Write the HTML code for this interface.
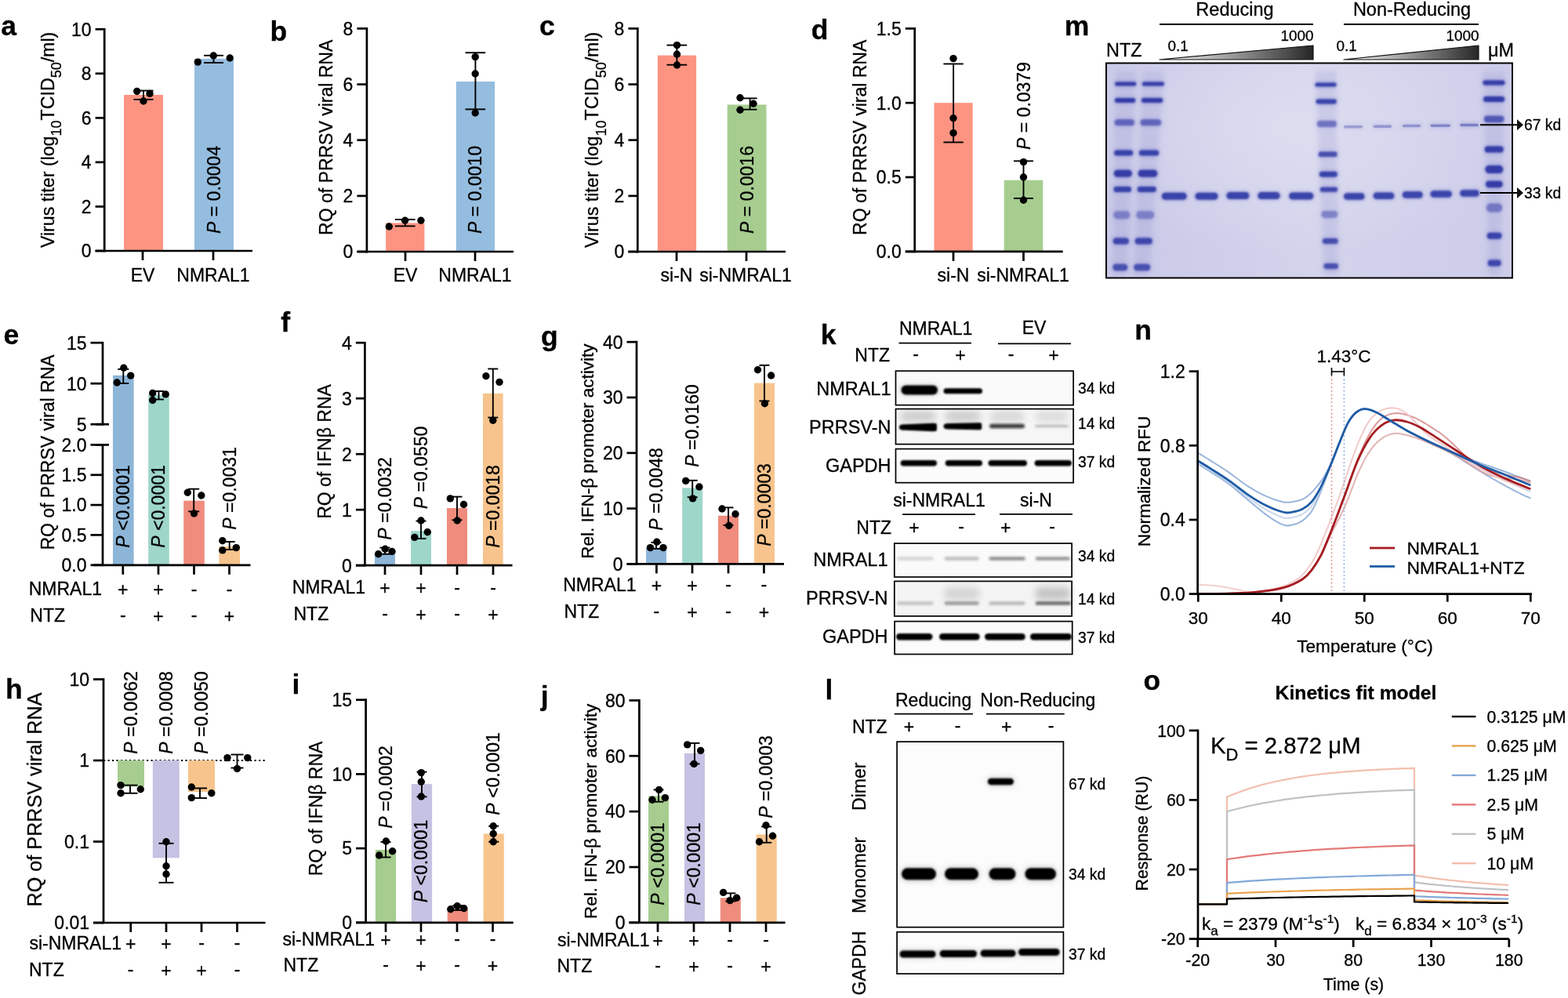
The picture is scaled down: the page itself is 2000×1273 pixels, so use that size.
<!DOCTYPE html>
<html><head><meta charset="utf-8"><style>
html,body{margin:0;padding:0;background:#fff;}
svg{display:block;font-family:"Liberation Sans", Arial, Helvetica, sans-serif;}
text{stroke:#000;stroke-width:0.3px;}
</style></head><body>
<svg width="2000" height="1273" viewBox="0 0 2000 1273">
<rect width="2000" height="1273" fill="#fff"/>
<text x="1.2" y="44.7" font-size="35.5" font-weight="bold">a</text>
<text x="344.6" y="51.5" font-size="35.5" font-weight="bold">b</text>
<text x="687.9" y="44.5" font-size="35.5" font-weight="bold">c</text>
<text x="1034.8" y="50.4" font-size="35.5" font-weight="bold">d</text>
<text x="1357.8" y="44.5" font-size="35.5" font-weight="bold">m</text>
<text x="4.4" y="439.2" font-size="35.5" font-weight="bold">e</text>
<text x="358.3" y="423.0" font-size="35.5" font-weight="bold">f</text>
<text x="690.1" y="440.5" font-size="35.5" font-weight="bold">g</text>
<text x="1046.8" y="439.0" font-size="35.5" font-weight="bold">k</text>
<text x="1447.3" y="433.0" font-size="35.5" font-weight="bold">n</text>
<text x="7.0" y="891.0" font-size="35.5" font-weight="bold">h</text>
<text x="372.5" y="884.9" font-size="35.5" font-weight="bold">i</text>
<text x="689.7" y="899.7" font-size="35.5" font-weight="bold">j</text>
<text x="1052.5" y="891.7" font-size="35.5" font-weight="bold">l</text>
<text x="1458.4" y="879.8" font-size="35.5" font-weight="bold">o</text>
<rect x="158.0" y="121.0" width="50.0" height="199.0" fill="#FD9482"/>
<rect x="248.0" y="74.9" width="50.0" height="245.1" fill="#95BDDF"/>
<line x1="133.2" y1="36.0" x2="133.2" y2="321.4" stroke="#000" stroke-width="2.7" stroke-linecap="butt"/>
<line x1="121.6" y1="37.3" x2="133.2" y2="37.3" stroke="#000" stroke-width="2.7"/>
<text x="116.6" y="45.6" font-size="23" text-anchor="end">10</text>
<line x1="121.6" y1="93.8" x2="133.2" y2="93.8" stroke="#000" stroke-width="2.7"/>
<text x="116.6" y="102.1" font-size="23" text-anchor="end">8</text>
<line x1="121.6" y1="150.4" x2="133.2" y2="150.4" stroke="#000" stroke-width="2.7"/>
<text x="116.6" y="158.7" font-size="23" text-anchor="end">6</text>
<line x1="121.6" y1="206.9" x2="133.2" y2="206.9" stroke="#000" stroke-width="2.7"/>
<text x="116.6" y="215.2" font-size="23" text-anchor="end">4</text>
<line x1="121.6" y1="263.5" x2="133.2" y2="263.5" stroke="#000" stroke-width="2.7"/>
<text x="116.6" y="271.7" font-size="23" text-anchor="end">2</text>
<line x1="121.6" y1="320.0" x2="133.2" y2="320.0" stroke="#000" stroke-width="2.7"/>
<text x="116.6" y="328.3" font-size="23" text-anchor="end">0</text>
<line x1="121.6" y1="320.0" x2="322.0" y2="320.0" stroke="#000" stroke-width="2.7"/>
<line x1="182.0" y1="320.0" x2="182.0" y2="332.0" stroke="#000" stroke-width="2.7"/>
<line x1="272.0" y1="320.0" x2="272.0" y2="332.0" stroke="#000" stroke-width="2.7"/>
<line x1="183.0" y1="115.6" x2="183.0" y2="126.9" stroke="#000" stroke-width="1.9"/>
<line x1="170.5" y1="115.6" x2="195.5" y2="115.6" stroke="#000" stroke-width="1.9"/>
<line x1="170.5" y1="126.9" x2="195.5" y2="126.9" stroke="#000" stroke-width="1.9"/>
<circle cx="174.7" cy="116.5" r="4.7" fill="#000"/>
<circle cx="191.0" cy="119.4" r="4.7" fill="#000"/>
<circle cx="183.0" cy="129.0" r="4.7" fill="#000"/>
<line x1="272.5" y1="70.8" x2="272.5" y2="80.0" stroke="#000" stroke-width="1.9"/>
<line x1="260.0" y1="70.8" x2="285.0" y2="70.8" stroke="#000" stroke-width="1.9"/>
<line x1="260.0" y1="80.0" x2="285.0" y2="80.0" stroke="#000" stroke-width="1.9"/>
<circle cx="252.3" cy="79.1" r="4.7" fill="#000"/>
<circle cx="272.3" cy="71.0" r="4.7" fill="#000"/>
<circle cx="293.2" cy="74.0" r="4.7" fill="#000"/>
<text transform="translate(280.5,242.0) rotate(-90)" font-size="23" text-anchor="middle"><tspan font-style="italic">P</tspan> = 0.0004</text>
<text x="182.0" y="358.8" font-size="23" text-anchor="middle">EV</text>
<text x="272.0" y="358.8" font-size="23" text-anchor="middle">NMRAL1</text>
<text transform="translate(68.6,178.4) rotate(-90)" font-size="23.2" text-anchor="middle">Virus titer (log<tspan dy="9.5" font-size="18">10</tspan><tspan dy="-9.5">TCID</tspan><tspan dy="9.5" font-size="18">50</tspan><tspan dy="-9.5">/ml)</tspan></text>
<rect x="492.1" y="284.4" width="49.3" height="36.6" fill="#FD9482"/>
<rect x="581.8" y="104.0" width="49.3" height="217.0" fill="#95BDDF"/>
<line x1="467.9" y1="35.1" x2="467.9" y2="322.4" stroke="#000" stroke-width="2.7" stroke-linecap="butt"/>
<line x1="455.4" y1="36.4" x2="467.9" y2="36.4" stroke="#000" stroke-width="2.7"/>
<text x="450.4" y="44.7" font-size="23" text-anchor="end">8</text>
<line x1="455.4" y1="107.6" x2="467.9" y2="107.6" stroke="#000" stroke-width="2.7"/>
<text x="450.4" y="115.9" font-size="23" text-anchor="end">6</text>
<line x1="455.4" y1="178.7" x2="467.9" y2="178.7" stroke="#000" stroke-width="2.7"/>
<text x="450.4" y="187.0" font-size="23" text-anchor="end">4</text>
<line x1="455.4" y1="249.9" x2="467.9" y2="249.9" stroke="#000" stroke-width="2.7"/>
<text x="450.4" y="258.1" font-size="23" text-anchor="end">2</text>
<line x1="455.4" y1="321.0" x2="467.9" y2="321.0" stroke="#000" stroke-width="2.7"/>
<text x="450.4" y="329.3" font-size="23" text-anchor="end">0</text>
<line x1="455.4" y1="321.0" x2="655.0" y2="321.0" stroke="#000" stroke-width="2.7"/>
<line x1="517.0" y1="321.0" x2="517.0" y2="333.0" stroke="#000" stroke-width="2.7"/>
<line x1="606.0" y1="321.0" x2="606.0" y2="333.0" stroke="#000" stroke-width="2.7"/>
<line x1="516.8" y1="280.0" x2="516.8" y2="288.4" stroke="#000" stroke-width="1.9"/>
<line x1="503.9" y1="280.0" x2="529.6" y2="280.0" stroke="#000" stroke-width="1.9"/>
<line x1="503.9" y1="288.4" x2="529.6" y2="288.4" stroke="#000" stroke-width="1.9"/>
<circle cx="496.3" cy="289.0" r="4.7" fill="#000"/>
<circle cx="516.6" cy="281.3" r="4.7" fill="#000"/>
<circle cx="536.9" cy="281.3" r="4.7" fill="#000"/>
<line x1="606.4" y1="67.2" x2="606.4" y2="139.4" stroke="#000" stroke-width="1.9"/>
<line x1="593.5" y1="67.2" x2="619.2" y2="67.2" stroke="#000" stroke-width="1.9"/>
<line x1="593.5" y1="139.4" x2="619.2" y2="139.4" stroke="#000" stroke-width="1.9"/>
<circle cx="606.2" cy="72.6" r="4.7" fill="#000"/>
<circle cx="606.2" cy="94.0" r="4.7" fill="#000"/>
<circle cx="606.2" cy="144.0" r="4.7" fill="#000"/>
<text transform="translate(614.0,242.0) rotate(-90)" font-size="23" text-anchor="middle"><tspan font-style="italic">P</tspan> = 0.0010</text>
<text x="517.0" y="358.8" font-size="23" text-anchor="middle">EV</text>
<text x="606.0" y="358.8" font-size="23" text-anchor="middle">NMRAL1</text>
<text transform="translate(424.0,175.3) rotate(-90)" font-size="23" text-anchor="middle">RQ of PRRSV viral RNA</text>
<rect x="838.8" y="70.6" width="49.3" height="250.4" fill="#FD9482"/>
<rect x="927.7" y="133.5" width="49.8" height="187.5" fill="#A6CD8F"/>
<line x1="813.3" y1="35.1" x2="813.3" y2="322.4" stroke="#000" stroke-width="2.7" stroke-linecap="butt"/>
<line x1="801.4" y1="36.4" x2="813.3" y2="36.4" stroke="#000" stroke-width="2.7"/>
<text x="796.4" y="44.7" font-size="23" text-anchor="end">8</text>
<line x1="801.4" y1="107.6" x2="813.3" y2="107.6" stroke="#000" stroke-width="2.7"/>
<text x="796.4" y="115.9" font-size="23" text-anchor="end">6</text>
<line x1="801.4" y1="178.7" x2="813.3" y2="178.7" stroke="#000" stroke-width="2.7"/>
<text x="796.4" y="187.0" font-size="23" text-anchor="end">4</text>
<line x1="801.4" y1="249.9" x2="813.3" y2="249.9" stroke="#000" stroke-width="2.7"/>
<text x="796.4" y="258.1" font-size="23" text-anchor="end">2</text>
<line x1="801.4" y1="321.0" x2="813.3" y2="321.0" stroke="#000" stroke-width="2.7"/>
<text x="796.4" y="329.3" font-size="23" text-anchor="end">0</text>
<line x1="801.4" y1="321.0" x2="1002.0" y2="321.0" stroke="#000" stroke-width="2.7"/>
<line x1="863.0" y1="321.0" x2="863.0" y2="333.0" stroke="#000" stroke-width="2.7"/>
<line x1="952.0" y1="321.0" x2="952.0" y2="333.0" stroke="#000" stroke-width="2.7"/>
<line x1="863.4" y1="57.6" x2="863.4" y2="82.7" stroke="#000" stroke-width="1.9"/>
<line x1="850.5" y1="57.6" x2="876.2" y2="57.6" stroke="#000" stroke-width="1.9"/>
<line x1="850.5" y1="82.7" x2="876.2" y2="82.7" stroke="#000" stroke-width="1.9"/>
<circle cx="863.5" cy="57.6" r="4.7" fill="#000"/>
<circle cx="863.5" cy="69.3" r="4.7" fill="#000"/>
<circle cx="863.5" cy="83.0" r="4.7" fill="#000"/>
<line x1="956.6" y1="125.4" x2="956.6" y2="139.7" stroke="#000" stroke-width="1.9"/>
<line x1="947.6" y1="125.4" x2="965.6" y2="125.4" stroke="#000" stroke-width="1.9"/>
<line x1="947.6" y1="139.7" x2="965.6" y2="139.7" stroke="#000" stroke-width="1.9"/>
<circle cx="944.0" cy="124.8" r="4.7" fill="#000"/>
<circle cx="961.0" cy="132.3" r="4.7" fill="#000"/>
<circle cx="944.0" cy="140.3" r="4.7" fill="#000"/>
<text transform="translate(960.5,242.0) rotate(-90)" font-size="23" text-anchor="middle"><tspan font-style="italic">P</tspan> = 0.0016</text>
<text x="863.0" y="358.8" font-size="23" text-anchor="middle">si-N</text>
<text x="951.0" y="358.8" font-size="23" text-anchor="middle">si-NMRAL1</text>
<text transform="translate(763.0,178.4) rotate(-90)" font-size="23.2" text-anchor="middle">Virus titer (log<tspan dy="9.5" font-size="18">10</tspan><tspan dy="-9.5">TCID</tspan><tspan dy="9.5" font-size="18">50</tspan><tspan dy="-9.5">/ml)</tspan></text>
<rect x="1191.5" y="131.2" width="49.2" height="189.7" fill="#FD9482"/>
<rect x="1280.7" y="229.8" width="49.6" height="91.1" fill="#A6CD8F"/>
<line x1="1166.7" y1="35.0" x2="1166.7" y2="322.2" stroke="#000" stroke-width="2.7" stroke-linecap="butt"/>
<line x1="1154.8" y1="36.4" x2="1166.7" y2="36.4" stroke="#000" stroke-width="2.7"/>
<text x="1149.8" y="44.6" font-size="23" text-anchor="end">1.5</text>
<line x1="1154.8" y1="131.2" x2="1166.7" y2="131.2" stroke="#000" stroke-width="2.7"/>
<text x="1149.8" y="139.5" font-size="23" text-anchor="end">1.0</text>
<line x1="1154.8" y1="226.0" x2="1166.7" y2="226.0" stroke="#000" stroke-width="2.7"/>
<text x="1149.8" y="234.3" font-size="23" text-anchor="end">0.5</text>
<line x1="1154.8" y1="320.9" x2="1166.7" y2="320.9" stroke="#000" stroke-width="2.7"/>
<text x="1149.8" y="329.2" font-size="23" text-anchor="end">0.0</text>
<line x1="1154.8" y1="320.9" x2="1355.7" y2="320.9" stroke="#000" stroke-width="2.7"/>
<line x1="1216.0" y1="320.9" x2="1216.0" y2="332.9" stroke="#000" stroke-width="2.7"/>
<line x1="1305.5" y1="320.9" x2="1305.5" y2="332.9" stroke="#000" stroke-width="2.7"/>
<line x1="1216.1" y1="81.5" x2="1216.1" y2="181.5" stroke="#000" stroke-width="1.9"/>
<line x1="1203.4" y1="81.5" x2="1228.8" y2="81.5" stroke="#000" stroke-width="1.9"/>
<line x1="1203.4" y1="181.5" x2="1228.8" y2="181.5" stroke="#000" stroke-width="1.9"/>
<circle cx="1216.0" cy="74.6" r="4.7" fill="#000"/>
<circle cx="1216.0" cy="150.7" r="4.7" fill="#000"/>
<circle cx="1216.0" cy="169.6" r="4.7" fill="#000"/>
<line x1="1305.5" y1="205.4" x2="1305.5" y2="253.0" stroke="#000" stroke-width="1.9"/>
<line x1="1293.0" y1="205.4" x2="1318.0" y2="205.4" stroke="#000" stroke-width="1.9"/>
<line x1="1293.0" y1="253.0" x2="1318.0" y2="253.0" stroke="#000" stroke-width="1.9"/>
<circle cx="1305.5" cy="206.6" r="4.7" fill="#000"/>
<circle cx="1305.5" cy="226.0" r="4.7" fill="#000"/>
<circle cx="1305.5" cy="255.2" r="4.7" fill="#000"/>
<text transform="translate(1314.0,135.0) rotate(-90)" font-size="23" text-anchor="middle"><tspan font-style="italic">P</tspan> = 0.0379</text>
<text x="1216.0" y="358.8" font-size="23" text-anchor="middle">si-N</text>
<text x="1305.0" y="358.8" font-size="23" text-anchor="middle">si-NMRAL1</text>
<text transform="translate(1104.5,175.3) rotate(-90)" font-size="23" text-anchor="middle">RQ of PRRSV viral RNA</text>
<rect x="144.0" y="478.8" width="26.6" height="242.0" fill="#8DB5D8"/>
<rect x="189.2" y="503.8" width="26.6" height="217.0" fill="#9ED6CA"/>
<rect x="234.2" y="638.7" width="26.6" height="82.1" fill="#EF8C7D"/>
<rect x="279.4" y="697.0" width="26.6" height="23.8" fill="#F7C48D"/>
<line x1="131.0" y1="435.9" x2="131.0" y2="542.6" stroke="#000" stroke-width="2.7" stroke-linecap="butt"/>
<line x1="115.5" y1="437.2" x2="131.0" y2="437.2" stroke="#000" stroke-width="2.7"/>
<text x="110.5" y="445.5" font-size="23" text-anchor="end">15</text>
<line x1="115.5" y1="489.2" x2="131.0" y2="489.2" stroke="#000" stroke-width="2.7"/>
<text x="110.5" y="497.5" font-size="23" text-anchor="end">10</text>
<line x1="115.5" y1="541.2" x2="131.0" y2="541.2" stroke="#000" stroke-width="2.7"/>
<text x="110.5" y="549.5" font-size="23" text-anchor="end">5</text>
<line x1="131.0" y1="566.0" x2="131.0" y2="722.1" stroke="#000" stroke-width="2.7" stroke-linecap="butt"/>
<line x1="115.5" y1="567.4" x2="131.0" y2="567.4" stroke="#000" stroke-width="2.7"/>
<text x="110.5" y="575.7" font-size="23" text-anchor="end">2.0</text>
<line x1="115.5" y1="605.8" x2="131.0" y2="605.8" stroke="#000" stroke-width="2.7"/>
<text x="110.5" y="614.0" font-size="23" text-anchor="end">1.5</text>
<line x1="115.5" y1="644.1" x2="131.0" y2="644.1" stroke="#000" stroke-width="2.7"/>
<text x="110.5" y="652.4" font-size="23" text-anchor="end">1.0</text>
<line x1="115.5" y1="682.4" x2="131.0" y2="682.4" stroke="#000" stroke-width="2.7"/>
<text x="110.5" y="690.7" font-size="23" text-anchor="end">0.5</text>
<line x1="115.5" y1="720.8" x2="131.0" y2="720.8" stroke="#000" stroke-width="2.7"/>
<text x="110.5" y="729.1" font-size="23" text-anchor="end">0.0</text>
<line x1="122.2" y1="541.2" x2="139.0" y2="541.2" stroke="#000" stroke-width="2.7"/>
<line x1="122.2" y1="567.4" x2="139.0" y2="567.4" stroke="#000" stroke-width="2.7"/>
<line x1="119.0" y1="720.8" x2="319.5" y2="720.8" stroke="#000" stroke-width="2.7"/>
<line x1="156.8" y1="720.8" x2="156.8" y2="732.8" stroke="#000" stroke-width="2.7"/>
<line x1="202.0" y1="720.8" x2="202.0" y2="732.8" stroke="#000" stroke-width="2.7"/>
<line x1="247.5" y1="720.8" x2="247.5" y2="732.8" stroke="#000" stroke-width="2.7"/>
<line x1="292.5" y1="720.8" x2="292.5" y2="732.8" stroke="#000" stroke-width="2.7"/>
<line x1="157.3" y1="470.9" x2="157.3" y2="489.0" stroke="#000" stroke-width="1.9"/>
<line x1="150.3" y1="470.9" x2="164.3" y2="470.9" stroke="#000" stroke-width="1.9"/>
<line x1="150.3" y1="489.0" x2="164.3" y2="489.0" stroke="#000" stroke-width="1.9"/>
<line x1="202.5" y1="499.0" x2="202.5" y2="509.5" stroke="#000" stroke-width="1.9"/>
<line x1="196.0" y1="499.0" x2="209.0" y2="499.0" stroke="#000" stroke-width="1.9"/>
<line x1="196.0" y1="509.5" x2="209.0" y2="509.5" stroke="#000" stroke-width="1.9"/>
<line x1="247.2" y1="623.7" x2="247.2" y2="652.4" stroke="#000" stroke-width="1.9"/>
<line x1="240.2" y1="623.7" x2="254.2" y2="623.7" stroke="#000" stroke-width="1.9"/>
<line x1="240.2" y1="652.4" x2="254.2" y2="652.4" stroke="#000" stroke-width="1.9"/>
<line x1="292.7" y1="691.0" x2="292.7" y2="701.0" stroke="#000" stroke-width="1.9"/>
<line x1="285.7" y1="691.0" x2="299.7" y2="691.0" stroke="#000" stroke-width="1.9"/>
<line x1="285.7" y1="701.0" x2="299.7" y2="701.0" stroke="#000" stroke-width="1.9"/>
<circle cx="149.2" cy="488.0" r="4.7" fill="#000"/>
<circle cx="157.8" cy="469.2" r="4.7" fill="#000"/>
<circle cx="166.7" cy="479.1" r="4.7" fill="#000"/>
<circle cx="194.7" cy="501.5" r="4.7" fill="#000"/>
<circle cx="194.7" cy="510.5" r="4.7" fill="#000"/>
<circle cx="211.2" cy="502.9" r="4.7" fill="#000"/>
<circle cx="239.3" cy="628.3" r="4.7" fill="#000"/>
<circle cx="256.8" cy="632.0" r="4.7" fill="#000"/>
<circle cx="247.5" cy="655.0" r="4.7" fill="#000"/>
<circle cx="283.8" cy="689.7" r="4.7" fill="#000"/>
<circle cx="283.8" cy="701.9" r="4.7" fill="#000"/>
<circle cx="301.3" cy="698.6" r="4.7" fill="#000"/>
<text transform="translate(164.8,646.0) rotate(-90)" font-size="23" text-anchor="middle"><tspan font-style="italic">P</tspan> &lt;0.0001</text>
<text transform="translate(210.0,646.0) rotate(-90)" font-size="23" text-anchor="middle"><tspan font-style="italic">P</tspan> &lt;0.0001</text>
<text transform="translate(301.0,623.0) rotate(-90)" font-size="23" text-anchor="middle"><tspan font-style="italic">P</tspan> =0.0031</text>
<text x="130.0" y="759.3" font-size="23" text-anchor="end">NMRAL1</text>
<text x="38.3" y="792.7" font-size="23">NTZ</text>
<text x="156.8" y="760.3" font-size="23" text-anchor="middle">+</text>
<text x="202.0" y="760.3" font-size="23" text-anchor="middle">+</text>
<text x="247.5" y="758.5" font-size="23" text-anchor="middle">-</text>
<text x="292.5" y="758.5" font-size="23" text-anchor="middle">-</text>
<text x="156.8" y="791.9" font-size="23" text-anchor="middle">-</text>
<text x="202.0" y="793.7" font-size="23" text-anchor="middle">+</text>
<text x="247.5" y="791.9" font-size="23" text-anchor="middle">-</text>
<text x="292.5" y="793.7" font-size="23" text-anchor="middle">+</text>
<text transform="translate(69.0,577.0) rotate(-90)" font-size="23" text-anchor="middle">RQ of PRRSV viral RNA</text>
<rect x="478.0" y="705.6" width="26.0" height="15.6" fill="#8DB5D8"/>
<rect x="524.0" y="677.2" width="26.0" height="44.0" fill="#9ED6CA"/>
<rect x="570.0" y="648.1" width="26.0" height="73.1" fill="#EF8C7D"/>
<rect x="616.0" y="501.8" width="25.6" height="219.4" fill="#F7C48D"/>
<line x1="465.4" y1="435.9" x2="465.4" y2="722.6" stroke="#000" stroke-width="2.7" stroke-linecap="butt"/>
<line x1="453.9" y1="437.2" x2="465.4" y2="437.2" stroke="#000" stroke-width="2.7"/>
<text x="448.9" y="445.5" font-size="23" text-anchor="end">4</text>
<line x1="453.9" y1="508.2" x2="465.4" y2="508.2" stroke="#000" stroke-width="2.7"/>
<text x="448.9" y="516.5" font-size="23" text-anchor="end">3</text>
<line x1="453.9" y1="579.2" x2="465.4" y2="579.2" stroke="#000" stroke-width="2.7"/>
<text x="448.9" y="587.5" font-size="23" text-anchor="end">2</text>
<line x1="453.9" y1="650.2" x2="465.4" y2="650.2" stroke="#000" stroke-width="2.7"/>
<text x="448.9" y="658.5" font-size="23" text-anchor="end">1</text>
<line x1="453.9" y1="721.2" x2="465.4" y2="721.2" stroke="#000" stroke-width="2.7"/>
<text x="448.9" y="729.5" font-size="23" text-anchor="end">0</text>
<line x1="453.9" y1="721.2" x2="653.5" y2="721.2" stroke="#000" stroke-width="2.7"/>
<line x1="491.0" y1="721.2" x2="491.0" y2="733.2" stroke="#000" stroke-width="2.7"/>
<line x1="537.0" y1="721.2" x2="537.0" y2="733.2" stroke="#000" stroke-width="2.7"/>
<line x1="583.0" y1="721.2" x2="583.0" y2="733.2" stroke="#000" stroke-width="2.7"/>
<line x1="629.0" y1="721.2" x2="629.0" y2="733.2" stroke="#000" stroke-width="2.7"/>
<line x1="491.0" y1="698.6" x2="491.0" y2="706.8" stroke="#000" stroke-width="1.9"/>
<line x1="484.5" y1="698.6" x2="497.5" y2="698.6" stroke="#000" stroke-width="1.9"/>
<line x1="484.5" y1="706.8" x2="497.5" y2="706.8" stroke="#000" stroke-width="1.9"/>
<circle cx="482.6" cy="706.8" r="4.7" fill="#000"/>
<circle cx="491.2" cy="700.2" r="4.7" fill="#000"/>
<circle cx="500.0" cy="703.5" r="4.7" fill="#000"/>
<line x1="537.0" y1="664.6" x2="537.0" y2="687.0" stroke="#000" stroke-width="1.9"/>
<line x1="530.5" y1="664.6" x2="543.5" y2="664.6" stroke="#000" stroke-width="1.9"/>
<line x1="530.5" y1="687.0" x2="543.5" y2="687.0" stroke="#000" stroke-width="1.9"/>
<circle cx="528.8" cy="685.4" r="4.7" fill="#000"/>
<circle cx="537.0" cy="664.0" r="4.7" fill="#000"/>
<circle cx="545.3" cy="678.8" r="4.7" fill="#000"/>
<line x1="583.0" y1="633.6" x2="583.0" y2="663.3" stroke="#000" stroke-width="1.9"/>
<line x1="576.5" y1="633.6" x2="589.5" y2="633.6" stroke="#000" stroke-width="1.9"/>
<line x1="576.5" y1="663.3" x2="589.5" y2="663.3" stroke="#000" stroke-width="1.9"/>
<circle cx="574.3" cy="635.9" r="4.7" fill="#000"/>
<circle cx="591.5" cy="643.5" r="4.7" fill="#000"/>
<circle cx="583.2" cy="664.0" r="4.7" fill="#000"/>
<line x1="628.8" y1="470.5" x2="628.8" y2="532.6" stroke="#000" stroke-width="1.9"/>
<line x1="622.3" y1="470.5" x2="635.3" y2="470.5" stroke="#000" stroke-width="1.9"/>
<line x1="622.3" y1="532.6" x2="635.3" y2="532.6" stroke="#000" stroke-width="1.9"/>
<circle cx="619.9" cy="479.8" r="4.7" fill="#000"/>
<circle cx="637.0" cy="487.4" r="4.7" fill="#000"/>
<circle cx="628.8" cy="536.2" r="4.7" fill="#000"/>
<text transform="translate(499.0,636.0) rotate(-90)" font-size="23" text-anchor="middle"><tspan font-style="italic">P</tspan> =0.0032</text>
<text transform="translate(545.0,596.5) rotate(-90)" font-size="23" text-anchor="middle"><tspan font-style="italic">P</tspan> =0.0550</text>
<text transform="translate(636.8,646.0) rotate(-90)" font-size="23" text-anchor="middle"><tspan font-style="italic">P</tspan> =0.0018</text>
<text x="466.0" y="757.3" font-size="23" text-anchor="end">NMRAL1</text>
<text x="374.5" y="790.5" font-size="23">NTZ</text>
<text x="491.0" y="758.3" font-size="23" text-anchor="middle">+</text>
<text x="537.0" y="758.3" font-size="23" text-anchor="middle">+</text>
<text x="583.0" y="756.5" font-size="23" text-anchor="middle">-</text>
<text x="629.0" y="756.5" font-size="23" text-anchor="middle">-</text>
<text x="491.0" y="789.7" font-size="23" text-anchor="middle">-</text>
<text x="537.0" y="791.5" font-size="23" text-anchor="middle">+</text>
<text x="583.0" y="789.7" font-size="23" text-anchor="middle">-</text>
<text x="629.0" y="791.5" font-size="23" text-anchor="middle">+</text>
<text transform="translate(422.0,576.0) rotate(-90)" font-size="23" text-anchor="middle">RQ of IFNβ RNA</text>
<rect x="824.0" y="698.6" width="26.0" height="20.8" fill="#8DB5D8"/>
<rect x="870.2" y="622.4" width="26.0" height="97.0" fill="#9ED6CA"/>
<rect x="916.0" y="657.8" width="26.0" height="61.6" fill="#EF8C7D"/>
<rect x="962.0" y="488.6" width="26.0" height="230.8" fill="#F7C48D"/>
<line x1="812.0" y1="434.8" x2="812.0" y2="720.8" stroke="#000" stroke-width="2.7" stroke-linecap="butt"/>
<line x1="799.5" y1="436.2" x2="812.0" y2="436.2" stroke="#000" stroke-width="2.7"/>
<text x="794.5" y="444.5" font-size="23" text-anchor="end">40</text>
<line x1="799.5" y1="507.0" x2="812.0" y2="507.0" stroke="#000" stroke-width="2.7"/>
<text x="794.5" y="515.3" font-size="23" text-anchor="end">30</text>
<line x1="799.5" y1="577.8" x2="812.0" y2="577.8" stroke="#000" stroke-width="2.7"/>
<text x="794.5" y="586.1" font-size="23" text-anchor="end">20</text>
<line x1="799.5" y1="648.6" x2="812.0" y2="648.6" stroke="#000" stroke-width="2.7"/>
<text x="794.5" y="656.9" font-size="23" text-anchor="end">10</text>
<line x1="799.5" y1="719.4" x2="812.0" y2="719.4" stroke="#000" stroke-width="2.7"/>
<text x="794.5" y="727.7" font-size="23" text-anchor="end">0</text>
<line x1="799.5" y1="719.4" x2="1000.0" y2="719.4" stroke="#000" stroke-width="2.7"/>
<line x1="837.4" y1="719.4" x2="837.4" y2="731.4" stroke="#000" stroke-width="2.7"/>
<line x1="883.0" y1="719.4" x2="883.0" y2="731.4" stroke="#000" stroke-width="2.7"/>
<line x1="929.0" y1="719.4" x2="929.0" y2="731.4" stroke="#000" stroke-width="2.7"/>
<line x1="974.4" y1="719.4" x2="974.4" y2="731.4" stroke="#000" stroke-width="2.7"/>
<line x1="837.0" y1="692.0" x2="837.0" y2="700.0" stroke="#000" stroke-width="1.9"/>
<line x1="830.5" y1="692.0" x2="843.5" y2="692.0" stroke="#000" stroke-width="1.9"/>
<line x1="830.5" y1="700.0" x2="843.5" y2="700.0" stroke="#000" stroke-width="1.9"/>
<circle cx="829.5" cy="698.6" r="4.7" fill="#000"/>
<circle cx="837.8" cy="691.3" r="4.7" fill="#000"/>
<circle cx="846.0" cy="698.6" r="4.7" fill="#000"/>
<line x1="883.2" y1="612.8" x2="883.2" y2="634.2" stroke="#000" stroke-width="1.9"/>
<line x1="876.7" y1="612.8" x2="889.7" y2="612.8" stroke="#000" stroke-width="1.9"/>
<line x1="876.7" y1="634.2" x2="889.7" y2="634.2" stroke="#000" stroke-width="1.9"/>
<circle cx="874.7" cy="613.4" r="4.7" fill="#000"/>
<circle cx="891.9" cy="621.0" r="4.7" fill="#000"/>
<circle cx="883.6" cy="635.9" r="4.7" fill="#000"/>
<line x1="929.0" y1="647.4" x2="929.0" y2="669.9" stroke="#000" stroke-width="1.9"/>
<line x1="922.5" y1="647.4" x2="935.5" y2="647.4" stroke="#000" stroke-width="1.9"/>
<line x1="922.5" y1="669.9" x2="935.5" y2="669.9" stroke="#000" stroke-width="1.9"/>
<circle cx="921.0" cy="649.0" r="4.7" fill="#000"/>
<circle cx="938.0" cy="655.7" r="4.7" fill="#000"/>
<circle cx="929.8" cy="670.5" r="4.7" fill="#000"/>
<line x1="975.0" y1="465.9" x2="975.0" y2="511.5" stroke="#000" stroke-width="1.9"/>
<line x1="968.5" y1="465.9" x2="981.5" y2="465.9" stroke="#000" stroke-width="1.9"/>
<line x1="968.5" y1="511.5" x2="981.5" y2="511.5" stroke="#000" stroke-width="1.9"/>
<circle cx="966.5" cy="471.8" r="4.7" fill="#000"/>
<circle cx="983.6" cy="479.0" r="4.7" fill="#000"/>
<circle cx="975.4" cy="514.8" r="4.7" fill="#000"/>
<text transform="translate(845.4,624.0) rotate(-90)" font-size="23" text-anchor="middle"><tspan font-style="italic">P</tspan> =0.0048</text>
<text transform="translate(891.0,543.0) rotate(-90)" font-size="23" text-anchor="middle"><tspan font-style="italic">P</tspan> =0.0160</text>
<text transform="translate(982.7,644.0) rotate(-90)" font-size="23" text-anchor="middle"><tspan font-style="italic">P</tspan> =0.0003</text>
<text x="811.5" y="754.2" font-size="23" text-anchor="end">NMRAL1</text>
<text x="719.5" y="788.0" font-size="23">NTZ</text>
<text x="837.4" y="755.2" font-size="23" text-anchor="middle">+</text>
<text x="883.0" y="755.2" font-size="23" text-anchor="middle">+</text>
<text x="929.0" y="753.4" font-size="23" text-anchor="middle">-</text>
<text x="974.4" y="753.4" font-size="23" text-anchor="middle">-</text>
<text x="837.4" y="787.2" font-size="23" text-anchor="middle">-</text>
<text x="883.0" y="789.0" font-size="23" text-anchor="middle">+</text>
<text x="929.0" y="787.2" font-size="23" text-anchor="middle">-</text>
<text x="974.4" y="789.0" font-size="23" text-anchor="middle">+</text>
<text transform="translate(757.4,575.7) rotate(-90)" font-size="22.5" text-anchor="middle">Rel. IFN-β promoter activity</text>
<line x1="132.0" y1="970.0" x2="340.0" y2="970.0" stroke="#000" stroke-width="2.2" stroke-dasharray="2.2 3.3"/>
<rect x="150.0" y="970.0" width="34.0" height="33.3" fill="#A6CD8F"/>
<rect x="194.8" y="970.0" width="34.0" height="124.3" fill="#C6C2E3"/>
<rect x="240.0" y="970.0" width="34.0" height="40.1" fill="#F7C48D"/>
<line x1="132.0" y1="865.1" x2="132.0" y2="1178.3" stroke="#000" stroke-width="2.7" stroke-linecap="butt"/>
<line x1="119.0" y1="866.5" x2="132.0" y2="866.5" stroke="#000" stroke-width="2.7"/>
<text x="114.0" y="874.8" font-size="23" text-anchor="end">10</text>
<line x1="119.0" y1="970.0" x2="132.0" y2="970.0" stroke="#000" stroke-width="2.7"/>
<text x="114.0" y="978.3" font-size="23" text-anchor="end">1</text>
<line x1="119.0" y1="1073.5" x2="132.0" y2="1073.5" stroke="#000" stroke-width="2.7"/>
<text x="114.0" y="1081.8" font-size="23" text-anchor="end">0.1</text>
<line x1="119.0" y1="1177.0" x2="132.0" y2="1177.0" stroke="#000" stroke-width="2.7"/>
<text x="114.0" y="1185.3" font-size="23" text-anchor="end">0.01</text>
<line x1="119.0" y1="1177.0" x2="338.5" y2="1177.0" stroke="#000" stroke-width="2.7"/>
<line x1="166.7" y1="1177.0" x2="166.7" y2="1189.0" stroke="#000" stroke-width="2.7"/>
<line x1="212.0" y1="1177.0" x2="212.0" y2="1189.0" stroke="#000" stroke-width="2.7"/>
<line x1="257.0" y1="1177.0" x2="257.0" y2="1189.0" stroke="#000" stroke-width="2.7"/>
<line x1="302.5" y1="1177.0" x2="302.5" y2="1189.0" stroke="#000" stroke-width="2.7"/>
<line x1="166.0" y1="1001.6" x2="166.0" y2="1011.8" stroke="#000" stroke-width="1.9"/>
<line x1="156.5" y1="1001.6" x2="175.5" y2="1001.6" stroke="#000" stroke-width="1.9"/>
<line x1="156.5" y1="1011.8" x2="175.5" y2="1011.8" stroke="#000" stroke-width="1.9"/>
<line x1="212.0" y1="1075.8" x2="212.0" y2="1125.8" stroke="#000" stroke-width="1.9"/>
<line x1="202.5" y1="1075.8" x2="221.5" y2="1075.8" stroke="#000" stroke-width="1.9"/>
<line x1="202.5" y1="1125.8" x2="221.5" y2="1125.8" stroke="#000" stroke-width="1.9"/>
<line x1="255.0" y1="1005.4" x2="255.0" y2="1018.0" stroke="#000" stroke-width="1.9"/>
<line x1="246.0" y1="1005.4" x2="264.0" y2="1005.4" stroke="#000" stroke-width="1.9"/>
<line x1="246.0" y1="1018.0" x2="264.0" y2="1018.0" stroke="#000" stroke-width="1.9"/>
<line x1="302.5" y1="962.5" x2="302.5" y2="979.5" stroke="#000" stroke-width="1.9"/>
<line x1="294.5" y1="962.5" x2="310.5" y2="962.5" stroke="#000" stroke-width="1.9"/>
<line x1="294.5" y1="979.5" x2="310.5" y2="979.5" stroke="#000" stroke-width="1.9"/>
<circle cx="154.0" cy="1001.6" r="4.7" fill="#000"/>
<circle cx="154.0" cy="1011.8" r="4.7" fill="#000"/>
<circle cx="179.3" cy="1006.7" r="4.7" fill="#000"/>
<circle cx="212.0" cy="1073.7" r="4.7" fill="#000"/>
<circle cx="212.0" cy="1104.7" r="4.7" fill="#000"/>
<circle cx="212.0" cy="1115.0" r="4.7" fill="#000"/>
<circle cx="244.3" cy="1004.0" r="4.7" fill="#000"/>
<circle cx="244.3" cy="1017.6" r="4.7" fill="#000"/>
<circle cx="269.8" cy="1011.8" r="4.7" fill="#000"/>
<circle cx="290.0" cy="966.6" r="4.7" fill="#000"/>
<circle cx="315.8" cy="966.6" r="4.7" fill="#000"/>
<circle cx="302.5" cy="980.5" r="4.7" fill="#000"/>
<text transform="translate(174.7,909.0) rotate(-90)" font-size="23" text-anchor="middle"><tspan font-style="italic">P</tspan> =0.0062</text>
<text transform="translate(220.0,909.0) rotate(-90)" font-size="23" text-anchor="middle"><tspan font-style="italic">P</tspan> =0.0008</text>
<text transform="translate(265.0,909.0) rotate(-90)" font-size="23" text-anchor="middle"><tspan font-style="italic">P</tspan> =0.0050</text>
<text x="155.0" y="1211.0" font-size="23" text-anchor="end">si-NMRAL1</text>
<text x="37.0" y="1245.0" font-size="23">NTZ</text>
<text x="166.7" y="1212.0" font-size="23" text-anchor="middle">+</text>
<text x="212.0" y="1212.0" font-size="23" text-anchor="middle">+</text>
<text x="257.0" y="1210.2" font-size="23" text-anchor="middle">-</text>
<text x="302.5" y="1210.2" font-size="23" text-anchor="middle">-</text>
<text x="166.7" y="1244.2" font-size="23" text-anchor="middle">-</text>
<text x="212.0" y="1246.0" font-size="23" text-anchor="middle">+</text>
<text x="257.0" y="1246.0" font-size="23" text-anchor="middle">+</text>
<text x="302.5" y="1244.2" font-size="23" text-anchor="middle">-</text>
<text transform="translate(52.9,1020.0) rotate(-90)" font-size="25.2" text-anchor="middle">RQ of PRRSV viral RNA</text>
<rect x="478.9" y="1084.0" width="26.2" height="92.8" fill="#A6CD8F"/>
<rect x="524.9" y="1000.1" width="26.2" height="176.7" fill="#C6C2E3"/>
<rect x="570.7" y="1159.8" width="26.2" height="17.0" fill="#EF8C7D"/>
<rect x="616.6" y="1063.5" width="26.2" height="113.3" fill="#F7C48D"/>
<line x1="466.6" y1="891.3" x2="466.6" y2="1178.1" stroke="#000" stroke-width="2.7" stroke-linecap="butt"/>
<line x1="454.0" y1="892.7" x2="466.6" y2="892.7" stroke="#000" stroke-width="2.7"/>
<text x="449.0" y="901.0" font-size="23" text-anchor="end">15</text>
<line x1="454.0" y1="987.4" x2="466.6" y2="987.4" stroke="#000" stroke-width="2.7"/>
<text x="449.0" y="995.7" font-size="23" text-anchor="end">10</text>
<line x1="454.0" y1="1082.1" x2="466.6" y2="1082.1" stroke="#000" stroke-width="2.7"/>
<text x="449.0" y="1090.4" font-size="23" text-anchor="end">5</text>
<line x1="454.0" y1="1176.8" x2="466.6" y2="1176.8" stroke="#000" stroke-width="2.7"/>
<text x="449.0" y="1185.1" font-size="23" text-anchor="end">0</text>
<line x1="454.0" y1="1176.8" x2="654.7" y2="1176.8" stroke="#000" stroke-width="2.7"/>
<line x1="492.0" y1="1176.8" x2="492.0" y2="1188.8" stroke="#000" stroke-width="2.7"/>
<line x1="537.0" y1="1176.8" x2="537.0" y2="1188.8" stroke="#000" stroke-width="2.7"/>
<line x1="583.0" y1="1176.8" x2="583.0" y2="1188.8" stroke="#000" stroke-width="2.7"/>
<line x1="628.5" y1="1176.8" x2="628.5" y2="1188.8" stroke="#000" stroke-width="2.7"/>
<line x1="492.0" y1="1074.0" x2="492.0" y2="1093.5" stroke="#000" stroke-width="1.9"/>
<line x1="485.5" y1="1074.0" x2="498.5" y2="1074.0" stroke="#000" stroke-width="1.9"/>
<line x1="485.5" y1="1093.5" x2="498.5" y2="1093.5" stroke="#000" stroke-width="1.9"/>
<circle cx="483.6" cy="1091.0" r="4.7" fill="#000"/>
<circle cx="492.4" cy="1073.0" r="4.7" fill="#000"/>
<circle cx="500.6" cy="1085.7" r="4.7" fill="#000"/>
<line x1="538.0" y1="984.6" x2="538.0" y2="1016.3" stroke="#000" stroke-width="1.9"/>
<line x1="531.5" y1="984.6" x2="544.5" y2="984.6" stroke="#000" stroke-width="1.9"/>
<line x1="531.5" y1="1016.3" x2="544.5" y2="1016.3" stroke="#000" stroke-width="1.9"/>
<circle cx="537.3" cy="985.6" r="4.7" fill="#000"/>
<circle cx="537.3" cy="997.2" r="4.7" fill="#000"/>
<circle cx="537.3" cy="1016.0" r="4.7" fill="#000"/>
<line x1="583.8" y1="1155.0" x2="583.8" y2="1161.0" stroke="#000" stroke-width="1.9"/>
<line x1="577.3" y1="1155.0" x2="590.3" y2="1155.0" stroke="#000" stroke-width="1.9"/>
<line x1="577.3" y1="1161.0" x2="590.3" y2="1161.0" stroke="#000" stroke-width="1.9"/>
<circle cx="574.8" cy="1159.8" r="4.7" fill="#000"/>
<circle cx="583.3" cy="1155.8" r="4.7" fill="#000"/>
<circle cx="591.8" cy="1158.8" r="4.7" fill="#000"/>
<line x1="629.7" y1="1053.7" x2="629.7" y2="1073.7" stroke="#000" stroke-width="1.9"/>
<line x1="623.2" y1="1053.7" x2="636.2" y2="1053.7" stroke="#000" stroke-width="1.9"/>
<line x1="623.2" y1="1073.7" x2="636.2" y2="1073.7" stroke="#000" stroke-width="1.9"/>
<circle cx="629.2" cy="1053.7" r="4.7" fill="#000"/>
<circle cx="629.2" cy="1063.5" r="4.7" fill="#000"/>
<circle cx="629.2" cy="1073.7" r="4.7" fill="#000"/>
<text transform="translate(500.0,1004.0) rotate(-90)" font-size="23" text-anchor="middle"><tspan font-style="italic">P</tspan> =0.0002</text>
<text transform="translate(545.3,1098.5) rotate(-90)" font-size="23" text-anchor="middle"><tspan font-style="italic">P</tspan> &lt;0.0001</text>
<text transform="translate(637.2,987.0) rotate(-90)" font-size="23" text-anchor="middle"><tspan font-style="italic">P</tspan> &lt;0.0001</text>
<text x="478.0" y="1205.8" font-size="23" text-anchor="end">si-NMRAL1</text>
<text x="361.5" y="1238.5" font-size="23">NTZ</text>
<text x="492.0" y="1206.8" font-size="23" text-anchor="middle">+</text>
<text x="537.0" y="1206.8" font-size="23" text-anchor="middle">+</text>
<text x="583.0" y="1205.0" font-size="23" text-anchor="middle">-</text>
<text x="628.5" y="1205.0" font-size="23" text-anchor="middle">-</text>
<text x="492.0" y="1237.7" font-size="23" text-anchor="middle">-</text>
<text x="537.0" y="1239.5" font-size="23" text-anchor="middle">+</text>
<text x="583.0" y="1237.7" font-size="23" text-anchor="middle">-</text>
<text x="628.5" y="1239.5" font-size="23" text-anchor="middle">+</text>
<text transform="translate(411.2,1031.5) rotate(-90)" font-size="23" text-anchor="middle">RQ of IFNβ RNA</text>
<rect x="827.0" y="1015.3" width="26.0" height="161.5" fill="#A6CD8F"/>
<rect x="873.0" y="960.7" width="26.0" height="216.1" fill="#C6C2E3"/>
<rect x="918.8" y="1145.3" width="26.0" height="31.5" fill="#EF8C7D"/>
<rect x="964.7" y="1064.5" width="26.0" height="112.3" fill="#F7C48D"/>
<line x1="815.4" y1="892.0" x2="815.4" y2="1178.1" stroke="#000" stroke-width="2.7" stroke-linecap="butt"/>
<line x1="802.5" y1="893.4" x2="815.4" y2="893.4" stroke="#000" stroke-width="2.7"/>
<text x="797.5" y="901.7" font-size="23" text-anchor="end">80</text>
<line x1="802.5" y1="964.2" x2="815.4" y2="964.2" stroke="#000" stroke-width="2.7"/>
<text x="797.5" y="972.5" font-size="23" text-anchor="end">60</text>
<line x1="802.5" y1="1035.1" x2="815.4" y2="1035.1" stroke="#000" stroke-width="2.7"/>
<text x="797.5" y="1043.4" font-size="23" text-anchor="end">40</text>
<line x1="802.5" y1="1106.0" x2="815.4" y2="1106.0" stroke="#000" stroke-width="2.7"/>
<text x="797.5" y="1114.2" font-size="23" text-anchor="end">20</text>
<line x1="802.5" y1="1176.8" x2="815.4" y2="1176.8" stroke="#000" stroke-width="2.7"/>
<text x="797.5" y="1185.1" font-size="23" text-anchor="end">0</text>
<line x1="802.5" y1="1176.8" x2="1001.5" y2="1176.8" stroke="#000" stroke-width="2.7"/>
<line x1="839.0" y1="1176.8" x2="839.0" y2="1188.8" stroke="#000" stroke-width="2.7"/>
<line x1="885.0" y1="1176.8" x2="885.0" y2="1188.8" stroke="#000" stroke-width="2.7"/>
<line x1="931.0" y1="1176.8" x2="931.0" y2="1188.8" stroke="#000" stroke-width="2.7"/>
<line x1="977.0" y1="1176.8" x2="977.0" y2="1188.8" stroke="#000" stroke-width="2.7"/>
<line x1="840.0" y1="1007.4" x2="840.0" y2="1022.7" stroke="#000" stroke-width="1.9"/>
<line x1="833.5" y1="1007.4" x2="846.5" y2="1007.4" stroke="#000" stroke-width="1.9"/>
<line x1="833.5" y1="1022.7" x2="846.5" y2="1022.7" stroke="#000" stroke-width="1.9"/>
<circle cx="832.0" cy="1020.3" r="4.7" fill="#000"/>
<circle cx="840.6" cy="1007.4" r="4.7" fill="#000"/>
<circle cx="848.4" cy="1017.6" r="4.7" fill="#000"/>
<line x1="886.0" y1="947.9" x2="886.0" y2="974.4" stroke="#000" stroke-width="1.9"/>
<line x1="879.5" y1="947.9" x2="892.5" y2="947.9" stroke="#000" stroke-width="1.9"/>
<line x1="879.5" y1="974.4" x2="892.5" y2="974.4" stroke="#000" stroke-width="1.9"/>
<circle cx="876.7" cy="949.9" r="4.7" fill="#000"/>
<circle cx="893.7" cy="957.4" r="4.7" fill="#000"/>
<circle cx="885.2" cy="974.4" r="4.7" fill="#000"/>
<line x1="931.8" y1="1139.4" x2="931.8" y2="1149.6" stroke="#000" stroke-width="1.9"/>
<line x1="925.3" y1="1139.4" x2="938.3" y2="1139.4" stroke="#000" stroke-width="1.9"/>
<line x1="925.3" y1="1149.6" x2="938.3" y2="1149.6" stroke="#000" stroke-width="1.9"/>
<circle cx="922.6" cy="1138.4" r="4.7" fill="#000"/>
<circle cx="939.6" cy="1145.2" r="4.7" fill="#000"/>
<circle cx="931.1" cy="1148.6" r="4.7" fill="#000"/>
<line x1="977.7" y1="1054.4" x2="977.7" y2="1074.8" stroke="#000" stroke-width="1.9"/>
<line x1="971.2" y1="1054.4" x2="984.2" y2="1054.4" stroke="#000" stroke-width="1.9"/>
<line x1="971.2" y1="1074.8" x2="984.2" y2="1074.8" stroke="#000" stroke-width="1.9"/>
<circle cx="977.0" cy="1052.7" r="4.7" fill="#000"/>
<circle cx="985.5" cy="1066.3" r="4.7" fill="#000"/>
<circle cx="968.5" cy="1073.8" r="4.7" fill="#000"/>
<text transform="translate(847.2,1102.0) rotate(-90)" font-size="23" text-anchor="middle"><tspan font-style="italic">P</tspan> &lt;0.0001</text>
<text transform="translate(893.2,1102.0) rotate(-90)" font-size="23" text-anchor="middle"><tspan font-style="italic">P</tspan> &lt;0.0001</text>
<text transform="translate(985.0,991.0) rotate(-90)" font-size="23" text-anchor="middle"><tspan font-style="italic">P</tspan> =0.0003</text>
<text x="828.5" y="1206.8" font-size="23" text-anchor="end">si-NMRAL1</text>
<text x="710.5" y="1240.0" font-size="23">NTZ</text>
<text x="839.0" y="1207.8" font-size="23" text-anchor="middle">+</text>
<text x="885.0" y="1207.8" font-size="23" text-anchor="middle">+</text>
<text x="931.0" y="1206.0" font-size="23" text-anchor="middle">-</text>
<text x="977.0" y="1206.0" font-size="23" text-anchor="middle">-</text>
<text x="839.0" y="1239.2" font-size="23" text-anchor="middle">-</text>
<text x="885.0" y="1241.0" font-size="23" text-anchor="middle">+</text>
<text x="931.0" y="1239.2" font-size="23" text-anchor="middle">-</text>
<text x="977.0" y="1241.0" font-size="23" text-anchor="middle">+</text>
<text transform="translate(761.4,1034.8) rotate(-90)" font-size="22.5" text-anchor="middle">Rel. IFN-β promoter activity</text>
<defs>
<filter id="b06" x="-20%" y="-100%" width="140%" height="300%"><feGaussianBlur stdDeviation="0.6"/></filter>
<filter id="b1" x="-20%" y="-100%" width="140%" height="300%"><feGaussianBlur stdDeviation="1"/></filter>
<filter id="b15" x="-20%" y="-100%" width="140%" height="300%"><feGaussianBlur stdDeviation="1.5"/></filter>
<filter id="b2" x="-30%" y="-150%" width="160%" height="400%"><feGaussianBlur stdDeviation="2"/></filter>
<filter id="b3" x="-30%" y="-150%" width="160%" height="400%"><feGaussianBlur stdDeviation="3"/></filter>
<filter id="b5" x="-50%" y="-50%" width="200%" height="200%"><feGaussianBlur stdDeviation="5"/></filter>
<linearGradient id="wedge" x1="0" y1="0" x2="1" y2="0"><stop offset="0" stop-color="#fff"/><stop offset="1" stop-color="#262626"/></linearGradient>
<linearGradient id="gelbg" x1="0" y1="0" x2="1" y2="0"><stop offset="0" stop-color="#C9C9E8"/><stop offset="0.5" stop-color="#D3D3EC"/><stop offset="1" stop-color="#CDCDEA"/></linearGradient>
<radialGradient id="gelrad" cx="0.45" cy="0.3" r="0.6"><stop offset="0" stop-color="#fff" stop-opacity="0.25"/><stop offset="1" stop-color="#fff" stop-opacity="0"/></radialGradient>
</defs>
<text x="1193.6" y="427.0" font-size="23" text-anchor="middle">NMRAL1</text>
<line x1="1146.5" y1="437.7" x2="1239.0" y2="437.7" stroke="#000" stroke-width="1.8"/>
<text x="1319.0" y="425.5" font-size="23" text-anchor="middle">EV</text>
<line x1="1273.0" y1="438.4" x2="1366.0" y2="438.4" stroke="#000" stroke-width="1.8"/>
<text x="1135.0" y="460.5" font-size="23" text-anchor="end">NTZ</text>
<text x="1168.0" y="459.2" font-size="23" text-anchor="middle">-</text>
<text x="1225.0" y="461.0" font-size="23" text-anchor="middle">+</text>
<text x="1289.5" y="459.2" font-size="23" text-anchor="middle">-</text>
<text x="1344.0" y="461.0" font-size="23" text-anchor="middle">+</text>
<rect x="1143.0" y="473.5" width="226.0" height="43.0" fill="#fafafa"/>
<rect x="1147.0" y="489.6" width="51.5" height="16.0" rx="8.0" fill="#000" fill-opacity="0.12" filter="url(#b3)"/>
<rect x="1149.5" y="491.6" width="46.5" height="12.0" rx="6.0" fill="#000" fill-opacity="1" filter="url(#b1)"/>
<rect x="1203.5" y="495.2" width="49.5" height="7.0" rx="3.5" fill="#000" fill-opacity="1" filter="url(#b1)"/>
<rect x="1142.5" y="473.2" width="226.6" height="43.5" fill="none" stroke="#000" stroke-width="1.7"/>
<rect x="1143.0" y="522.0" width="226.0" height="44.0" fill="#f6f6f6"/>
<rect x="1148.0" y="524.0" width="46.0" height="14.0" rx="7.0" fill="#9a9a9a" fill-opacity="0.45" filter="url(#b5)"/>
<rect x="1205.0" y="524.0" width="46.0" height="14.0" rx="7.0" fill="#9a9a9a" fill-opacity="0.45" filter="url(#b5)"/>
<rect x="1262.0" y="524.0" width="45.0" height="14.0" rx="7.0" fill="#a0a0a0" fill-opacity="0.35" filter="url(#b5)"/>
<rect x="1320.0" y="524.0" width="43.0" height="14.0" rx="7.0" fill="#a0a0a0" fill-opacity="0.3" filter="url(#b5)"/>
<path d="M1146.9,545.0 C1146.9,541.3 1150.9,541.3 1154.9,541.3 L1189.0,539.8 C1195.0,539.8 1195.0,539.8 1195.0,545.0 C1195.0,550.2 1195.0,550.2 1189.0,550.2 L1154.9,548.7 C1150.9,548.7 1146.9,548.7 1146.9,545.0Z" fill="#000" fill-opacity="1" filter="url(#b1)"/>
<path d="M1203.5,543.7 C1203.5,539.9 1207.5,539.9 1211.5,539.9 L1246.3,539.2 C1252.3,539.2 1252.3,539.2 1252.3,543.7 C1252.3,548.2 1252.3,548.2 1246.3,548.2 L1211.5,547.5 C1207.5,547.5 1203.5,547.5 1203.5,543.7Z" fill="#000" fill-opacity="1" filter="url(#b1)"/>
<rect x="1262.0" y="540.8" width="45.0" height="5.5" rx="2.8" fill="#111" fill-opacity="0.8" filter="url(#b15)"/>
<rect x="1320.0" y="541.8" width="43.0" height="3.5" rx="1.8" fill="#555" fill-opacity="0.35" filter="url(#b15)"/>
<rect x="1142.5" y="521.6" width="226.6" height="45.0" fill="none" stroke="#000" stroke-width="1.7"/>
<rect x="1143.0" y="573.0" width="226.0" height="42.0" fill="#fbfbfb"/>
<rect x="1148.7" y="586.9" width="46.3" height="7.5" rx="3.8" fill="#000" fill-opacity="1" filter="url(#b1)"/>
<rect x="1205.7" y="586.9" width="47.3" height="7.5" rx="3.8" fill="#000" fill-opacity="1" filter="url(#b1)"/>
<rect x="1260.5" y="586.9" width="49.5" height="7.5" rx="3.8" fill="#000" fill-opacity="1" filter="url(#b1)"/>
<rect x="1319.6" y="586.9" width="47.4" height="7.5" rx="3.8" fill="#000" fill-opacity="1" filter="url(#b1)"/>
<rect x="1142.5" y="572.6" width="226.6" height="43.1" fill="none" stroke="#000" stroke-width="1.7"/>
<text x="1136.5" y="504.0" font-size="23.5" text-anchor="end">NMRAL1</text>
<text x="1136.5" y="553.4" font-size="23.5" text-anchor="end">PRRSV-N</text>
<text x="1136.5" y="601.8" font-size="23.5" text-anchor="end">GAPDH</text>
<text x="1375.0" y="502.0" font-size="19.3">34 kd</text>
<text x="1375.0" y="547.0" font-size="19.3">14 kd</text>
<text x="1375.0" y="596.4" font-size="19.3">37 kd</text>
<text x="1198.0" y="646.0" font-size="23" text-anchor="middle">si-NMRAL1</text>
<line x1="1151.0" y1="656.2" x2="1244.0" y2="656.2" stroke="#000" stroke-width="1.8"/>
<text x="1321.5" y="645.5" font-size="23" text-anchor="middle">si-N</text>
<line x1="1275.0" y1="655.8" x2="1368.0" y2="655.8" stroke="#000" stroke-width="1.8"/>
<text x="1137.0" y="680.5" font-size="23" text-anchor="end">NTZ</text>
<text x="1166.0" y="681.0" font-size="23" text-anchor="middle">+</text>
<text x="1226.0" y="679.2" font-size="23" text-anchor="middle">-</text>
<text x="1282.6" y="681.0" font-size="23" text-anchor="middle">+</text>
<text x="1342.0" y="679.2" font-size="23" text-anchor="middle">-</text>
<rect x="1141.0" y="693.5" width="226.0" height="43.0" fill="#fafafa"/>
<rect x="1144.0" y="710.2" width="46.6" height="4.5" rx="2.2" fill="#333" fill-opacity="0.18" filter="url(#b15)"/>
<rect x="1204.6" y="710.2" width="44.1" height="4.5" rx="2.2" fill="#333" fill-opacity="0.3" filter="url(#b15)"/>
<rect x="1261.5" y="710.2" width="46.3" height="4.5" rx="2.2" fill="#333" fill-opacity="0.55" filter="url(#b15)"/>
<rect x="1320.7" y="710.2" width="44.1" height="4.5" rx="2.2" fill="#333" fill-opacity="0.5" filter="url(#b15)"/>
<rect x="1140.8" y="693.1" width="226.3" height="42.9" fill="none" stroke="#000" stroke-width="1.7"/>
<rect x="1141.0" y="742.0" width="226.0" height="44.0" fill="#f4f4f4"/>
<rect x="1204.0" y="749.0" width="46.0" height="16.0" rx="8.0" fill="#999" fill-opacity="0.35" filter="url(#b5)"/>
<rect x="1320.0" y="749.0" width="46.0" height="16.0" rx="8.0" fill="#888" fill-opacity="0.45" filter="url(#b5)"/>
<rect x="1144.0" y="767.2" width="46.6" height="4.5" rx="2.2" fill="#333" fill-opacity="0.25" filter="url(#b15)"/>
<rect x="1204.6" y="767.2" width="44.1" height="4.5" rx="2.2" fill="#333" fill-opacity="0.45" filter="url(#b15)"/>
<rect x="1261.5" y="767.2" width="46.3" height="4.5" rx="2.2" fill="#333" fill-opacity="0.3" filter="url(#b15)"/>
<rect x="1320.7" y="767.2" width="45.3" height="4.5" rx="2.2" fill="#333" fill-opacity="0.7" filter="url(#b15)"/>
<rect x="1140.8" y="741.4" width="226.3" height="44.5" fill="none" stroke="#000" stroke-width="1.7"/>
<rect x="1141.0" y="793.0" width="226.0" height="41.0" fill="#fbfbfb"/>
<rect x="1143.0" y="808.0" width="46.5" height="8.5" rx="4.2" fill="#000" fill-opacity="1" filter="url(#b1)"/>
<rect x="1198.0" y="808.0" width="51.7" height="8.5" rx="4.2" fill="#000" fill-opacity="1" filter="url(#b1)"/>
<rect x="1256.0" y="808.0" width="51.8" height="8.5" rx="4.2" fill="#000" fill-opacity="1" filter="url(#b1)"/>
<rect x="1314.0" y="808.0" width="53.0" height="8.5" rx="4.2" fill="#000" fill-opacity="1" filter="url(#b1)"/>
<rect x="1141.1" y="792.6" width="226.6" height="41.9" fill="none" stroke="#000" stroke-width="1.7"/>
<text x="1132.5" y="721.8" font-size="23.5" text-anchor="end">NMRAL1</text>
<text x="1132.5" y="770.8" font-size="23.5" text-anchor="end">PRRSV-N</text>
<text x="1132.5" y="819.6" font-size="23.5" text-anchor="end">GAPDH</text>
<text x="1375.0" y="715.5" font-size="19.3">34 kd</text>
<text x="1375.0" y="771.0" font-size="19.3">14 kd</text>
<text x="1375.0" y="820.0" font-size="19.3">37 kd</text>
<text x="1190.6" y="901.2" font-size="23" text-anchor="middle">Reducing</text>
<line x1="1140.7" y1="910.7" x2="1241.0" y2="910.7" stroke="#000" stroke-width="1.8"/>
<text x="1323.8" y="901.0" font-size="23" text-anchor="middle">Non-Reducing</text>
<line x1="1258.0" y1="910.7" x2="1357.7" y2="910.7" stroke="#000" stroke-width="1.8"/>
<text x="1131.6" y="934.6" font-size="23" text-anchor="end">NTZ</text>
<text x="1159.5" y="935.0" font-size="23" text-anchor="middle">+</text>
<text x="1221.7" y="933.2" font-size="23" text-anchor="middle">-</text>
<text x="1283.6" y="935.0" font-size="23" text-anchor="middle">+</text>
<text x="1340.7" y="933.2" font-size="23" text-anchor="middle">-</text>
<rect x="1145.0" y="947.0" width="211.0" height="235.0" fill="#fcfcfc"/>
<rect x="1258.0" y="990.5" width="37.0" height="13.0" rx="6.5" fill="#000" fill-opacity="0.12" filter="url(#b3)"/>
<rect x="1259.8" y="992.8" width="33.2" height="8.5" rx="4.2" fill="#000" fill-opacity="1" filter="url(#b1)"/>
<rect x="1148.0" y="1104.8" width="48.0" height="20.0" rx="10.0" fill="#000" fill-opacity="0.15" filter="url(#b3)"/>
<rect x="1150.0" y="1107.3" width="44.0" height="15.0" rx="7.5" fill="#000" fill-opacity="1" filter="url(#b1)"/>
<rect x="1203.0" y="1104.8" width="47.0" height="20.0" rx="10.0" fill="#000" fill-opacity="0.15" filter="url(#b3)"/>
<rect x="1205.0" y="1107.3" width="43.0" height="15.0" rx="7.5" fill="#000" fill-opacity="1" filter="url(#b1)"/>
<rect x="1259.5" y="1104.8" width="38.0" height="20.0" rx="10.0" fill="#000" fill-opacity="0.15" filter="url(#b3)"/>
<rect x="1261.5" y="1107.3" width="34.0" height="15.0" rx="7.5" fill="#000" fill-opacity="1" filter="url(#b1)"/>
<rect x="1305.4" y="1104.8" width="43.6" height="20.0" rx="10.0" fill="#000" fill-opacity="0.15" filter="url(#b3)"/>
<rect x="1307.4" y="1107.3" width="39.6" height="15.0" rx="7.5" fill="#000" fill-opacity="1" filter="url(#b1)"/>
<rect x="1144.1" y="946.1" width="212.3" height="236.6" fill="none" stroke="#000" stroke-width="1.7"/>
<rect x="1145.0" y="1190.0" width="211.0" height="51.0" fill="#fcfcfc"/>
<rect x="1145.5" y="1210.5" width="50.0" height="13.0" rx="6.5" fill="#000" fill-opacity="0.12" filter="url(#b3)"/>
<rect x="1147.5" y="1212.5" width="46.0" height="9.0" rx="4.5" fill="#000" fill-opacity="1" filter="url(#b1)"/>
<rect x="1196.6" y="1210.0" width="51.4" height="13.0" rx="6.5" fill="#000" fill-opacity="0.12" filter="url(#b3)"/>
<rect x="1198.6" y="1212.0" width="47.4" height="9.0" rx="4.5" fill="#000" fill-opacity="1" filter="url(#b1)"/>
<rect x="1248.6" y="1209.5" width="48.9" height="13.0" rx="6.5" fill="#000" fill-opacity="0.12" filter="url(#b3)"/>
<rect x="1250.6" y="1211.5" width="44.9" height="9.0" rx="4.5" fill="#000" fill-opacity="1" filter="url(#b1)"/>
<rect x="1297.0" y="1208.0" width="56.6" height="13.0" rx="6.5" fill="#000" fill-opacity="0.12" filter="url(#b3)"/>
<rect x="1299.0" y="1210.0" width="52.6" height="9.0" rx="4.5" fill="#000" fill-opacity="1" filter="url(#b1)"/>
<rect x="1144.1" y="1188.8" width="212.3" height="53.3" fill="none" stroke="#000" stroke-width="1.7"/>
<text transform="translate(1103.5,1003.3) rotate(-90)" font-size="23" text-anchor="middle">Dimer</text>
<text transform="translate(1103.5,1116.4) rotate(-90)" font-size="23" text-anchor="middle">Monomer</text>
<text transform="translate(1103.5,1228.6) rotate(-90)" font-size="23" text-anchor="middle">GAPDH</text>
<text x="1363.0" y="1006.7" font-size="19.3">67 kd</text>
<text x="1363.0" y="1121.6" font-size="19.3">34 kd</text>
<text x="1363.0" y="1224.4" font-size="19.3">37 kd</text>
<text x="1575.0" y="20.4" font-size="23.5" text-anchor="middle">Reducing</text>
<line x1="1479.0" y1="31.0" x2="1675.0" y2="31.0" stroke="#000" stroke-width="1.8"/>
<text x="1801.0" y="20.4" font-size="23.5" text-anchor="middle">Non-Reducing</text>
<line x1="1714.0" y1="31.0" x2="1886.0" y2="31.0" stroke="#000" stroke-width="1.8"/>
<polygon points="1479,76 1675,58 1675,76" fill="url(#wedge)"/>
<polygon points="1714,76 1886,58 1886,76" fill="url(#wedge)"/>
<polygon points="1479,76 1675,58 1675,76" fill="none" stroke="#111" stroke-width="1.2" stroke-linejoin="round"/>
<polygon points="1714,76 1886,58 1886,76" fill="none" stroke="#111" stroke-width="1.2" stroke-linejoin="round"/>
<text x="1489.5" y="64.5" font-size="18.9">0.1</text>
<text x="1675.5" y="51.6" font-size="18.9" text-anchor="end">1000</text>
<text x="1704.5" y="64.5" font-size="18.9">0.1</text>
<text x="1886.5" y="51.6" font-size="18.9" text-anchor="end">1000</text>
<text x="1411.0" y="72.0" font-size="23.4">NTZ</text>
<text x="1898.0" y="72.0" font-size="23.4">μM</text>
<rect x="1411.0" y="80.0" width="518.0" height="275.0" fill="url(#gelbg)"/>
<rect x="1411" y="80" width="518" height="275" fill="url(#gelrad)"/>
<polygon points="1422.4,90 1449.4,90 1437.8,352 1419.3,352" fill="#8c8ccb" fill-opacity="0.22" filter="url(#b3)"/>
<polygon points="1457.3,90 1485.2,90 1466.5,352 1445.7,352" fill="#8c8ccb" fill-opacity="0.22" filter="url(#b3)"/>
<polygon points="1677.2,90 1704.4,90 1707.1,352 1689.0,352" fill="#8c8ccb" fill-opacity="0.22" filter="url(#b3)"/>
<polygon points="1891.4,90 1919.5,90 1914.4,352 1898.2,352" fill="#8c8ccb" fill-opacity="0.22" filter="url(#b3)"/>
<rect x="1420.8" y="103.0" width="29.8" height="8.0" rx="4.0" fill="#5a60bf" fill-opacity="0.35" filter="url(#b2)"/>
<rect x="1422.3" y="104.5" width="26.8" height="5.0" rx="2.5" fill="#2a33a2" fill-opacity="0.92" filter="url(#b1)"/>
<rect x="1420.5" y="123.5" width="29.1" height="9.0" rx="4.5" fill="#5a60bf" fill-opacity="0.35" filter="url(#b2)"/>
<rect x="1422.0" y="125.0" width="26.1" height="6.0" rx="3.0" fill="#2a33a2" fill-opacity="0.92" filter="url(#b1)"/>
<rect x="1420.2" y="150.8" width="28.1" height="11.0" rx="5.5" fill="#5a60bf" fill-opacity="0.22749999999999998" filter="url(#b2)"/>
<rect x="1421.7" y="152.3" width="25.1" height="8.0" rx="4.0" fill="#2a33a2" fill-opacity="0.5980000000000001" filter="url(#b1)"/>
<rect x="1419.7" y="190.0" width="26.8" height="10.0" rx="5.0" fill="#5a60bf" fill-opacity="0.33249999999999996" filter="url(#b2)"/>
<rect x="1421.2" y="191.5" width="23.8" height="7.0" rx="3.5" fill="#2a33a2" fill-opacity="0.874" filter="url(#b1)"/>
<rect x="1419.4" y="215.3" width="25.9" height="12.0" rx="6.0" fill="#5a60bf" fill-opacity="0.35" filter="url(#b2)"/>
<rect x="1420.9" y="216.8" width="22.9" height="9.0" rx="4.5" fill="#2a33a2" fill-opacity="0.92" filter="url(#b1)"/>
<rect x="1419.1" y="236.6" width="25.3" height="10.0" rx="5.0" fill="#5a60bf" fill-opacity="0.33249999999999996" filter="url(#b2)"/>
<rect x="1420.6" y="238.1" width="22.3" height="7.0" rx="3.5" fill="#2a33a2" fill-opacity="0.874" filter="url(#b1)"/>
<rect x="1418.7" y="267.7" width="24.2" height="13.0" rx="6.5" fill="#5a60bf" fill-opacity="0.147" filter="url(#b2)"/>
<rect x="1420.2" y="269.2" width="21.2" height="10.0" rx="5.0" fill="#2a33a2" fill-opacity="0.3864" filter="url(#b1)"/>
<rect x="1418.3" y="302.1" width="23.0" height="11.0" rx="5.5" fill="#5a60bf" fill-opacity="0.315" filter="url(#b2)"/>
<rect x="1419.8" y="303.6" width="20.0" height="8.0" rx="4.0" fill="#2a33a2" fill-opacity="0.8280000000000001" filter="url(#b1)"/>
<rect x="1417.9" y="335.2" width="21.9" height="11.5" rx="5.8" fill="#5a60bf" fill-opacity="0.27999999999999997" filter="url(#b2)"/>
<rect x="1419.4" y="336.8" width="18.9" height="8.5" rx="4.2" fill="#2a33a2" fill-opacity="0.7360000000000001" filter="url(#b1)"/>
<rect x="1455.5" y="103.0" width="30.7" height="8.0" rx="4.0" fill="#5a60bf" fill-opacity="0.35" filter="url(#b2)"/>
<rect x="1457.0" y="104.5" width="27.7" height="5.0" rx="2.5" fill="#2a33a2" fill-opacity="0.92" filter="url(#b1)"/>
<rect x="1454.5" y="123.5" width="30.1" height="9.0" rx="4.5" fill="#5a60bf" fill-opacity="0.35" filter="url(#b2)"/>
<rect x="1456.0" y="125.0" width="27.1" height="6.0" rx="3.0" fill="#2a33a2" fill-opacity="0.92" filter="url(#b1)"/>
<rect x="1453.2" y="150.8" width="29.3" height="11.0" rx="5.5" fill="#5a60bf" fill-opacity="0.22749999999999998" filter="url(#b2)"/>
<rect x="1454.7" y="152.3" width="26.3" height="8.0" rx="4.0" fill="#2a33a2" fill-opacity="0.5980000000000001" filter="url(#b1)"/>
<rect x="1451.4" y="190.0" width="28.2" height="10.0" rx="5.0" fill="#5a60bf" fill-opacity="0.33249999999999996" filter="url(#b2)"/>
<rect x="1452.9" y="191.5" width="25.2" height="7.0" rx="3.5" fill="#2a33a2" fill-opacity="0.874" filter="url(#b1)"/>
<rect x="1450.2" y="215.3" width="27.5" height="12.0" rx="6.0" fill="#5a60bf" fill-opacity="0.35" filter="url(#b2)"/>
<rect x="1451.7" y="216.8" width="24.5" height="9.0" rx="4.5" fill="#2a33a2" fill-opacity="0.92" filter="url(#b1)"/>
<rect x="1449.3" y="236.6" width="26.9" height="10.0" rx="5.0" fill="#5a60bf" fill-opacity="0.33249999999999996" filter="url(#b2)"/>
<rect x="1450.8" y="238.1" width="23.9" height="7.0" rx="3.5" fill="#2a33a2" fill-opacity="0.874" filter="url(#b1)"/>
<rect x="1447.8" y="267.7" width="26.0" height="13.0" rx="6.5" fill="#5a60bf" fill-opacity="0.147" filter="url(#b2)"/>
<rect x="1449.3" y="269.2" width="23.0" height="10.0" rx="5.0" fill="#2a33a2" fill-opacity="0.3864" filter="url(#b1)"/>
<rect x="1446.2" y="302.1" width="25.0" height="11.0" rx="5.5" fill="#5a60bf" fill-opacity="0.315" filter="url(#b2)"/>
<rect x="1447.7" y="303.6" width="22.0" height="8.0" rx="4.0" fill="#2a33a2" fill-opacity="0.8280000000000001" filter="url(#b1)"/>
<rect x="1444.7" y="335.2" width="24.1" height="11.5" rx="5.8" fill="#5a60bf" fill-opacity="0.27999999999999997" filter="url(#b2)"/>
<rect x="1446.2" y="336.8" width="21.1" height="8.5" rx="4.2" fill="#2a33a2" fill-opacity="0.7360000000000001" filter="url(#b1)"/>
<rect x="1676.1" y="103.9" width="29.9" height="8.0" rx="4.0" fill="#5a60bf" fill-opacity="0.33249999999999996" filter="url(#b2)"/>
<rect x="1677.6" y="105.4" width="26.9" height="5.0" rx="2.5" fill="#2a33a2" fill-opacity="0.874" filter="url(#b1)"/>
<rect x="1677.1" y="125.1" width="29.1" height="9.0" rx="4.5" fill="#5a60bf" fill-opacity="0.33249999999999996" filter="url(#b2)"/>
<rect x="1678.6" y="126.6" width="26.1" height="6.0" rx="3.0" fill="#2a33a2" fill-opacity="0.874" filter="url(#b1)"/>
<rect x="1678.4" y="152.6" width="28.1" height="11.0" rx="5.5" fill="#5a60bf" fill-opacity="0.1925" filter="url(#b2)"/>
<rect x="1679.9" y="154.1" width="25.1" height="8.0" rx="4.0" fill="#2a33a2" fill-opacity="0.5060000000000001" filter="url(#b1)"/>
<rect x="1680.3" y="192.1" width="26.7" height="9.5" rx="4.8" fill="#5a60bf" fill-opacity="0.2975" filter="url(#b2)"/>
<rect x="1681.8" y="193.6" width="23.7" height="6.5" rx="3.2" fill="#2a33a2" fill-opacity="0.782" filter="url(#b1)"/>
<rect x="1681.4" y="217.3" width="25.8" height="10.0" rx="5.0" fill="#5a60bf" fill-opacity="0.33249999999999996" filter="url(#b2)"/>
<rect x="1682.9" y="218.8" width="22.8" height="7.0" rx="3.5" fill="#2a33a2" fill-opacity="0.874" filter="url(#b1)"/>
<rect x="1682.4" y="237.3" width="25.1" height="9.0" rx="4.5" fill="#5a60bf" fill-opacity="0.315" filter="url(#b2)"/>
<rect x="1683.9" y="238.8" width="22.1" height="6.0" rx="3.0" fill="#2a33a2" fill-opacity="0.8280000000000001" filter="url(#b1)"/>
<rect x="1683.8" y="267.4" width="24.0" height="12.0" rx="6.0" fill="#5a60bf" fill-opacity="0.147" filter="url(#b2)"/>
<rect x="1685.3" y="268.9" width="21.0" height="9.0" rx="4.5" fill="#2a33a2" fill-opacity="0.3864" filter="url(#b1)"/>
<rect x="1685.4" y="302.5" width="22.7" height="10.0" rx="5.0" fill="#5a60bf" fill-opacity="0.2975" filter="url(#b2)"/>
<rect x="1686.9" y="304.0" width="19.7" height="7.0" rx="3.5" fill="#2a33a2" fill-opacity="0.782" filter="url(#b1)"/>
<rect x="1686.9" y="334.4" width="21.6" height="10.0" rx="5.0" fill="#5a60bf" fill-opacity="0.27999999999999997" filter="url(#b2)"/>
<rect x="1688.4" y="335.9" width="18.6" height="7.0" rx="3.5" fill="#2a33a2" fill-opacity="0.7360000000000001" filter="url(#b1)"/>
<rect x="1890.0" y="100.9" width="30.9" height="9.0" rx="4.5" fill="#5a60bf" fill-opacity="0.35" filter="url(#b2)"/>
<rect x="1891.5" y="102.4" width="27.9" height="6.0" rx="3.0" fill="#2a33a2" fill-opacity="0.92" filter="url(#b1)"/>
<rect x="1890.6" y="121.5" width="29.9" height="10.0" rx="5.0" fill="#5a60bf" fill-opacity="0.35" filter="url(#b2)"/>
<rect x="1892.1" y="123.0" width="26.9" height="7.0" rx="3.5" fill="#2a33a2" fill-opacity="0.92" filter="url(#b1)"/>
<rect x="1891.3" y="146.2" width="28.7" height="11.5" rx="5.8" fill="#5a60bf" fill-opacity="0.26249999999999996" filter="url(#b2)"/>
<rect x="1892.8" y="147.7" width="25.7" height="8.5" rx="4.2" fill="#2a33a2" fill-opacity="0.6900000000000001" filter="url(#b1)"/>
<rect x="1892.3" y="185.1" width="26.8" height="11.0" rx="5.5" fill="#5a60bf" fill-opacity="0.35" filter="url(#b2)"/>
<rect x="1893.8" y="186.6" width="23.8" height="8.0" rx="4.0" fill="#2a33a2" fill-opacity="0.92" filter="url(#b1)"/>
<rect x="1893.0" y="209.6" width="25.6" height="13.0" rx="6.5" fill="#5a60bf" fill-opacity="0.35" filter="url(#b2)"/>
<rect x="1894.5" y="211.1" width="22.6" height="10.0" rx="5.0" fill="#2a33a2" fill-opacity="0.92" filter="url(#b1)"/>
<rect x="1893.5" y="229.2" width="24.7" height="11.5" rx="5.8" fill="#5a60bf" fill-opacity="0.35" filter="url(#b2)"/>
<rect x="1895.0" y="230.8" width="21.7" height="8.5" rx="4.2" fill="#2a33a2" fill-opacity="0.92" filter="url(#b1)"/>
<rect x="1894.3" y="258.0" width="23.3" height="14.0" rx="7.0" fill="#5a60bf" fill-opacity="0.175" filter="url(#b2)"/>
<rect x="1895.8" y="259.5" width="20.3" height="11.0" rx="5.5" fill="#2a33a2" fill-opacity="0.46" filter="url(#b1)"/>
<rect x="1895.3" y="295.2" width="21.6" height="11.0" rx="5.5" fill="#5a60bf" fill-opacity="0.33249999999999996" filter="url(#b2)"/>
<rect x="1896.8" y="296.7" width="18.6" height="8.0" rx="4.0" fill="#2a33a2" fill-opacity="0.874" filter="url(#b1)"/>
<rect x="1896.2" y="329.9" width="20.0" height="11.0" rx="5.5" fill="#5a60bf" fill-opacity="0.315" filter="url(#b2)"/>
<rect x="1897.7" y="331.4" width="17.0" height="8.0" rx="4.0" fill="#2a33a2" fill-opacity="0.8280000000000001" filter="url(#b1)"/>
<rect x="1480.3" y="244.3" width="34.9" height="12.0" rx="6.0" fill="#5a60bf" fill-opacity="0.33249999999999996" filter="url(#b2)"/>
<rect x="1481.8" y="245.8" width="31.9" height="9.0" rx="4.5" fill="#2a33a2" fill-opacity="0.874" filter="url(#b1)"/>
<rect x="1523.0" y="244.3" width="32.0" height="12.0" rx="6.0" fill="#5a60bf" fill-opacity="0.33249999999999996" filter="url(#b2)"/>
<rect x="1524.5" y="245.8" width="29.0" height="9.0" rx="4.5" fill="#2a33a2" fill-opacity="0.874" filter="url(#b1)"/>
<rect x="1562.9" y="243.6" width="32.0" height="12.0" rx="6.0" fill="#5a60bf" fill-opacity="0.33249999999999996" filter="url(#b2)"/>
<rect x="1564.4" y="245.1" width="29.0" height="9.0" rx="4.5" fill="#2a33a2" fill-opacity="0.874" filter="url(#b1)"/>
<rect x="1602.8" y="243.6" width="31.3" height="12.0" rx="6.0" fill="#5a60bf" fill-opacity="0.33249999999999996" filter="url(#b2)"/>
<rect x="1604.3" y="245.1" width="28.3" height="9.0" rx="4.5" fill="#2a33a2" fill-opacity="0.874" filter="url(#b1)"/>
<rect x="1642.7" y="244.0" width="34.1" height="12.0" rx="6.0" fill="#5a60bf" fill-opacity="0.33249999999999996" filter="url(#b2)"/>
<rect x="1644.2" y="245.5" width="31.1" height="9.0" rx="4.5" fill="#2a33a2" fill-opacity="0.874" filter="url(#b1)"/>
<rect x="1712.5" y="244.8" width="29.5" height="11.5" rx="5.8" fill="#5a60bf" fill-opacity="0.33249999999999996" filter="url(#b2)"/>
<rect x="1714.0" y="246.3" width="26.5" height="8.5" rx="4.2" fill="#2a33a2" fill-opacity="0.874" filter="url(#b1)"/>
<rect x="1750.2" y="244.1" width="29.6" height="11.5" rx="5.8" fill="#5a60bf" fill-opacity="0.33249999999999996" filter="url(#b2)"/>
<rect x="1751.7" y="245.6" width="26.6" height="8.5" rx="4.2" fill="#2a33a2" fill-opacity="0.874" filter="url(#b1)"/>
<rect x="1787.3" y="242.8" width="28.9" height="11.5" rx="5.8" fill="#5a60bf" fill-opacity="0.33249999999999996" filter="url(#b2)"/>
<rect x="1788.8" y="244.3" width="25.9" height="8.5" rx="4.2" fill="#2a33a2" fill-opacity="0.874" filter="url(#b1)"/>
<rect x="1823.0" y="241.8" width="30.3" height="11.5" rx="5.8" fill="#5a60bf" fill-opacity="0.33249999999999996" filter="url(#b2)"/>
<rect x="1824.5" y="243.3" width="27.3" height="8.5" rx="4.2" fill="#2a33a2" fill-opacity="0.874" filter="url(#b1)"/>
<rect x="1860.8" y="240.7" width="27.5" height="11.5" rx="5.8" fill="#5a60bf" fill-opacity="0.33249999999999996" filter="url(#b2)"/>
<rect x="1862.3" y="242.2" width="24.5" height="8.5" rx="4.2" fill="#2a33a2" fill-opacity="0.874" filter="url(#b1)"/>
<rect x="1712.5" y="158.6" width="27.0" height="6.5" rx="3.2" fill="#5a60bf" fill-opacity="0.13999999999999999" filter="url(#b2)"/>
<rect x="1714.0" y="160.1" width="24.0" height="3.5" rx="1.8" fill="#4a4fae" fill-opacity="0.36800000000000005" filter="url(#b06)"/>
<rect x="1750.2" y="158.1" width="26.3" height="6.5" rx="3.2" fill="#5a60bf" fill-opacity="0.1575" filter="url(#b2)"/>
<rect x="1751.7" y="159.6" width="23.3" height="3.5" rx="1.8" fill="#4a4fae" fill-opacity="0.41400000000000003" filter="url(#b06)"/>
<rect x="1787.3" y="157.3" width="26.2" height="6.5" rx="3.2" fill="#5a60bf" fill-opacity="0.1575" filter="url(#b2)"/>
<rect x="1788.8" y="158.8" width="23.2" height="3.5" rx="1.8" fill="#4a4fae" fill-opacity="0.41400000000000003" filter="url(#b06)"/>
<rect x="1823.0" y="156.9" width="28.5" height="6.5" rx="3.2" fill="#5a60bf" fill-opacity="0.1925" filter="url(#b2)"/>
<rect x="1824.5" y="158.4" width="25.5" height="3.5" rx="1.8" fill="#4a4fae" fill-opacity="0.5060000000000001" filter="url(#b06)"/>
<rect x="1860.8" y="156.2" width="26.7" height="6.5" rx="3.2" fill="#5a60bf" fill-opacity="0.21" filter="url(#b2)"/>
<rect x="1862.3" y="157.7" width="23.7" height="3.5" rx="1.8" fill="#4a4fae" fill-opacity="0.552" filter="url(#b06)"/>
<rect x="1411.0" y="80.5" width="518.0" height="274.0" fill="none" stroke="#000" stroke-width="2"/>
<line x1="1888.0" y1="159.3" x2="1936.0" y2="159.3" stroke="#000" stroke-width="2"/>
<polygon points="1935,152.3 1943,159.3 1935,166.3" fill="#111"/>
<text x="1944.0" y="166.3" font-size="19.3">67 kd</text>
<line x1="1888.0" y1="246.0" x2="1936.0" y2="246.0" stroke="#000" stroke-width="2"/>
<polygon points="1935,239.0 1943,246.0 1935,253.0" fill="#111"/>
<text x="1944.0" y="253.0" font-size="19.3">33 kd</text>
<path d="M1528.3,577.8 C1529.0,578.2 1531.1,579.5 1532.5,580.4 C1534.0,581.3 1535.4,582.1 1536.8,583.0 C1538.2,583.9 1539.6,584.8 1541.0,585.6 C1542.4,586.5 1543.8,587.4 1545.3,588.3 C1546.7,589.2 1548.1,590.1 1549.5,591.0 C1550.9,591.8 1552.3,592.7 1553.7,593.6 C1555.2,594.5 1556.6,595.4 1558.0,596.3 C1559.4,597.2 1560.8,598.1 1562.2,599.0 C1563.6,599.9 1565.0,600.9 1566.5,601.9 C1567.9,602.8 1569.3,603.8 1570.7,604.9 C1572.1,605.9 1573.5,607.0 1574.9,608.0 C1576.4,609.1 1577.8,610.2 1579.2,611.3 C1580.6,612.3 1582.0,613.4 1583.4,614.5 C1584.8,615.5 1586.2,616.5 1587.7,617.5 C1589.1,618.5 1590.5,619.4 1591.9,620.3 C1593.3,621.2 1594.7,622.1 1596.1,623.0 C1597.6,623.8 1599.0,624.7 1600.4,625.5 C1601.8,626.3 1603.2,627.1 1604.6,627.9 C1606.0,628.7 1607.4,629.4 1608.9,630.1 C1610.3,630.8 1611.7,631.5 1613.1,632.1 C1614.5,632.8 1615.9,633.4 1617.3,633.9 C1618.8,634.5 1620.2,635.1 1621.6,635.6 C1623.0,636.2 1624.4,636.7 1625.8,637.2 C1627.2,637.6 1628.6,638.1 1630.1,638.5 C1631.5,639.0 1632.9,639.4 1634.3,639.7 C1635.7,640.1 1637.1,640.5 1638.5,640.7 C1640.0,640.9 1641.4,640.9 1642.8,640.8 C1644.2,640.8 1645.6,640.5 1647.0,640.3 C1648.4,640.1 1649.8,639.8 1651.3,639.5 C1652.7,639.3 1654.1,639.1 1655.5,638.7 C1656.9,638.4 1658.3,638.0 1659.7,637.4 C1661.2,636.8 1662.6,636.1 1664.0,635.3 C1665.4,634.4 1666.8,633.6 1668.2,632.5 C1669.6,631.4 1671.0,630.0 1672.5,628.6 C1673.9,627.3 1675.3,625.7 1676.7,624.2 C1678.1,622.6 1679.5,620.9 1680.9,619.2 C1682.4,617.4 1683.8,615.7 1685.2,613.6 C1686.6,611.6 1688.0,609.5 1689.4,607.2 C1690.8,604.8 1692.2,602.2 1693.7,599.5 C1695.1,596.8 1696.5,594.1 1697.9,591.0 C1699.3,587.9 1700.7,584.5 1702.1,581.0 C1703.6,577.5 1705.0,573.7 1706.4,570.1 C1707.8,566.5 1709.2,563.0 1710.6,559.5 C1712.0,556.0 1713.4,552.2 1714.9,549.0 C1716.3,545.7 1717.7,542.6 1719.1,539.9 C1720.5,537.3 1721.9,535.1 1723.3,533.2 C1724.8,531.2 1726.2,529.6 1727.6,528.2 C1729.0,526.7 1730.4,525.6 1731.8,524.6 C1733.2,523.7 1734.6,523.0 1736.1,522.5 C1737.5,522.0 1738.9,521.8 1740.3,521.7 C1741.7,521.6 1743.1,521.8 1744.5,522.0 C1746.0,522.3 1747.4,522.7 1748.8,523.2 C1750.2,523.7 1751.6,524.2 1753.0,524.9 C1754.4,525.5 1755.8,526.1 1757.3,526.8 C1758.7,527.5 1760.1,528.4 1761.5,529.2 C1762.9,530.0 1764.3,531.0 1765.7,531.9 C1767.2,532.7 1768.6,533.6 1770.0,534.5 C1771.4,535.4 1772.8,536.2 1774.2,537.1 C1775.6,537.9 1777.0,538.8 1778.5,539.7 C1779.9,540.6 1781.3,541.4 1782.7,542.3 C1784.1,543.2 1785.5,544.1 1786.9,544.9 C1788.4,545.7 1789.8,546.6 1791.2,547.4 C1792.6,548.2 1794.0,549.0 1795.4,549.7 C1796.8,550.5 1798.2,551.2 1799.7,552.0 C1801.1,552.7 1802.5,553.4 1803.9,554.2 C1805.3,554.9 1806.7,555.6 1808.1,556.3 C1809.6,557.0 1811.0,557.7 1812.4,558.4 C1813.8,559.1 1815.2,559.7 1816.6,560.4 C1818.0,561.1 1819.4,561.8 1820.9,562.4 C1822.3,563.1 1823.7,563.8 1825.1,564.5 C1826.5,565.1 1827.9,565.8 1829.3,566.5 C1830.8,567.1 1832.2,567.7 1833.6,568.4 C1835.0,569.0 1836.4,569.6 1837.8,570.2 C1839.2,570.9 1840.6,571.5 1842.1,572.1 C1843.5,572.7 1844.9,573.3 1846.3,573.9 C1847.7,574.4 1849.1,575.0 1850.5,575.6 C1852.0,576.2 1853.4,576.8 1854.8,577.4 C1856.2,577.9 1857.6,578.5 1859.0,579.1 C1860.4,579.7 1861.8,580.3 1863.3,580.8 C1864.7,581.4 1866.1,582.0 1867.5,582.6 C1868.9,583.2 1870.3,583.7 1871.7,584.3 C1873.2,584.9 1874.6,585.4 1876.0,586.0 C1877.4,586.6 1878.8,587.1 1880.2,587.7 C1881.6,588.2 1883.0,588.8 1884.5,589.3 C1885.9,589.8 1887.3,590.4 1888.7,590.9 C1890.1,591.4 1891.5,591.9 1892.9,592.4 C1894.4,592.9 1895.8,593.4 1897.2,593.9 C1898.6,594.4 1900.0,594.9 1901.4,595.3 C1902.8,595.8 1904.2,596.3 1905.7,596.8 C1907.1,597.3 1908.5,597.7 1909.9,598.2 C1911.3,598.7 1912.7,599.2 1914.1,599.7 C1915.6,600.2 1917.0,600.7 1918.4,601.2 C1919.8,601.7 1921.2,602.2 1922.6,602.7 C1924.0,603.2 1925.4,603.7 1926.9,604.3 C1928.3,604.8 1929.7,605.3 1931.1,605.9 C1932.5,606.4 1933.9,606.9 1935.3,607.5 C1936.8,608.0 1938.2,608.6 1939.6,609.1 C1941.0,609.7 1942.4,610.2 1943.8,610.8 C1945.2,611.4 1946.6,611.9 1948.1,612.5 C1949.5,613.1 1951.6,613.9 1952.3,614.2" fill="none" stroke="#7fa3d3" stroke-width="2.0" stroke-opacity="0.8" stroke-linejoin="round"/>
<path d="M1528.3,592.0 C1529.0,592.4 1531.1,593.7 1532.5,594.6 C1534.0,595.5 1535.4,596.3 1536.8,597.2 C1538.2,598.1 1539.6,599.0 1541.0,599.9 C1542.4,600.8 1543.8,601.7 1545.3,602.6 C1546.7,603.5 1548.1,604.4 1549.5,605.3 C1550.9,606.1 1552.3,607.0 1553.7,608.0 C1555.2,608.9 1556.6,609.8 1558.0,610.7 C1559.4,611.6 1560.8,612.6 1562.2,613.6 C1563.6,614.5 1565.0,615.5 1566.5,616.6 C1567.9,617.6 1569.3,618.7 1570.7,619.8 C1572.1,620.9 1573.5,622.1 1574.9,623.2 C1576.4,624.4 1577.8,625.6 1579.2,626.9 C1580.6,628.1 1582.0,629.3 1583.4,630.5 C1584.8,631.8 1586.2,633.0 1587.7,634.2 C1589.1,635.4 1590.5,636.6 1591.9,637.7 C1593.3,638.9 1594.7,640.1 1596.1,641.3 C1597.6,642.5 1599.0,643.6 1600.4,644.8 C1601.8,646.0 1603.2,647.2 1604.6,648.3 C1606.0,649.5 1607.4,650.7 1608.9,651.8 C1610.3,652.9 1611.7,654.0 1613.1,655.1 C1614.5,656.2 1615.9,657.2 1617.3,658.2 C1618.8,659.2 1620.2,660.2 1621.6,661.2 C1623.0,662.1 1624.4,663.1 1625.8,663.9 C1627.2,664.8 1628.6,665.6 1630.1,666.3 C1631.5,667.1 1632.9,667.8 1634.3,668.4 C1635.7,669.0 1637.1,669.6 1638.5,669.9 C1640.0,670.2 1641.4,670.4 1642.8,670.4 C1644.2,670.3 1645.6,670.1 1647.0,669.8 C1648.4,669.5 1649.8,669.2 1651.3,668.8 C1652.7,668.4 1654.1,668.0 1655.5,667.4 C1656.9,666.8 1658.3,666.1 1659.7,665.2 C1661.2,664.3 1662.6,663.2 1664.0,662.0 C1665.4,660.8 1666.8,659.6 1668.2,658.0 C1669.6,656.5 1671.0,654.9 1672.5,652.8 C1673.9,650.7 1675.3,648.2 1676.7,645.4 C1678.1,642.6 1679.5,639.4 1680.9,636.2 C1682.4,632.9 1683.8,629.4 1685.2,625.9 C1686.6,622.3 1688.0,618.6 1689.4,614.9 C1690.8,611.1 1692.2,607.3 1693.7,603.5 C1695.1,599.7 1696.5,596.0 1697.9,592.3 C1699.3,588.5 1700.7,584.7 1702.1,581.0 C1703.6,577.3 1705.0,573.7 1706.4,570.1 C1707.8,566.5 1709.2,563.0 1710.6,559.5 C1712.0,556.0 1713.4,552.2 1714.9,549.0 C1716.3,545.7 1717.7,542.6 1719.1,539.9 C1720.5,537.3 1721.9,535.1 1723.3,533.2 C1724.8,531.2 1726.2,529.6 1727.6,528.2 C1729.0,526.7 1730.4,525.6 1731.8,524.6 C1733.2,523.7 1734.6,523.0 1736.1,522.5 C1737.5,522.0 1738.9,521.8 1740.3,521.7 C1741.7,521.6 1743.1,521.8 1744.5,522.0 C1746.0,522.3 1747.4,522.7 1748.8,523.2 C1750.2,523.7 1751.6,524.2 1753.0,524.9 C1754.4,525.5 1755.8,526.1 1757.3,526.8 C1758.7,527.5 1760.1,528.4 1761.5,529.2 C1762.9,530.0 1764.3,531.0 1765.7,531.9 C1767.2,532.7 1768.6,533.6 1770.0,534.5 C1771.4,535.4 1772.8,536.2 1774.2,537.1 C1775.6,537.9 1777.0,538.8 1778.5,539.7 C1779.9,540.6 1781.3,541.4 1782.7,542.3 C1784.1,543.2 1785.5,544.1 1786.9,544.9 C1788.4,545.7 1789.8,546.6 1791.2,547.4 C1792.6,548.2 1794.0,549.0 1795.4,549.7 C1796.8,550.5 1798.2,551.2 1799.7,552.0 C1801.1,552.7 1802.5,553.4 1803.9,554.2 C1805.3,554.9 1806.7,555.6 1808.1,556.3 C1809.6,557.0 1811.0,557.7 1812.4,558.4 C1813.8,559.1 1815.2,559.7 1816.6,560.4 C1818.0,561.1 1819.4,561.8 1820.9,562.4 C1822.3,563.1 1823.7,563.8 1825.1,564.5 C1826.5,565.1 1827.9,565.8 1829.3,566.5 C1830.8,567.2 1832.2,567.9 1833.6,568.7 C1835.0,569.4 1836.4,570.1 1837.8,570.8 C1839.2,571.6 1840.6,572.3 1842.1,573.1 C1843.5,573.9 1844.9,574.6 1846.3,575.4 C1847.7,576.2 1849.1,577.0 1850.5,577.8 C1852.0,578.6 1853.4,579.5 1854.8,580.3 C1856.2,581.1 1857.6,582.0 1859.0,582.8 C1860.4,583.7 1861.8,584.6 1863.3,585.4 C1864.7,586.3 1866.1,587.2 1867.5,588.1 C1868.9,589.0 1870.3,589.9 1871.7,590.8 C1873.2,591.7 1874.6,592.6 1876.0,593.5 C1877.4,594.4 1878.8,595.3 1880.2,596.2 C1881.6,597.1 1883.0,598.0 1884.5,598.9 C1885.9,599.8 1887.3,600.7 1888.7,601.5 C1890.1,602.4 1891.5,603.3 1892.9,604.1 C1894.4,605.0 1895.8,605.8 1897.2,606.7 C1898.6,607.5 1900.0,608.3 1901.4,609.1 C1902.8,610.0 1904.2,610.8 1905.7,611.6 C1907.1,612.4 1908.5,613.2 1909.9,614.0 C1911.3,614.8 1912.7,615.6 1914.1,616.4 C1915.6,617.2 1917.0,617.9 1918.4,618.7 C1919.8,619.5 1921.2,620.3 1922.6,621.1 C1924.0,621.8 1925.4,622.6 1926.9,623.3 C1928.3,624.1 1929.7,624.8 1931.1,625.6 C1932.5,626.3 1933.9,627.0 1935.3,627.7 C1936.8,628.4 1938.2,629.1 1939.6,629.8 C1941.0,630.5 1942.4,631.2 1943.8,631.8 C1945.2,632.5 1946.6,633.1 1948.1,633.7 C1949.5,634.3 1951.6,635.2 1952.3,635.5" fill="none" stroke="#7fa3d3" stroke-width="2.0" stroke-opacity="0.8" stroke-linejoin="round"/>
<path d="M1528.3,590.3 C1529.0,590.8 1531.1,592.1 1532.5,592.9 C1534.0,593.8 1535.4,594.7 1536.8,595.6 C1538.2,596.4 1539.6,597.3 1541.0,598.2 C1542.4,599.1 1543.8,600.0 1545.3,600.9 C1546.7,601.8 1548.1,602.7 1549.5,603.5 C1550.9,604.4 1552.3,605.3 1553.7,606.2 C1555.2,607.1 1556.6,608.0 1558.0,608.9 C1559.4,609.8 1560.8,610.8 1562.2,611.7 C1563.6,612.7 1565.0,613.6 1566.5,614.6 C1567.9,615.6 1569.3,616.7 1570.7,617.8 C1572.1,618.8 1573.5,619.9 1574.9,621.1 C1576.4,622.2 1577.8,623.4 1579.2,624.5 C1580.6,625.6 1582.0,626.8 1583.4,627.9 C1584.8,629.1 1586.2,630.2 1587.7,631.3 C1589.1,632.4 1590.5,633.4 1591.9,634.5 C1593.3,635.5 1594.7,636.5 1596.1,637.5 C1597.6,638.6 1599.0,639.6 1600.4,640.6 C1601.8,641.6 1603.2,642.6 1604.6,643.5 C1606.0,644.5 1607.4,645.4 1608.9,646.3 C1610.3,647.2 1611.7,648.1 1613.1,649.0 C1614.5,649.8 1615.9,650.7 1617.3,651.5 C1618.8,652.2 1620.2,653.0 1621.6,653.8 C1623.0,654.5 1624.4,655.2 1625.8,655.9 C1627.2,656.6 1628.6,657.2 1630.1,657.8 C1631.5,658.4 1632.9,658.9 1634.3,659.4 C1635.7,659.8 1637.1,660.4 1638.5,660.6 C1640.0,660.9 1641.4,661.0 1642.8,660.9 C1644.2,660.9 1645.6,660.6 1647.0,660.4 C1648.4,660.1 1649.8,659.8 1651.3,659.5 C1652.7,659.2 1654.1,658.9 1655.5,658.4 C1656.9,657.9 1658.3,657.4 1659.7,656.6 C1661.2,655.9 1662.6,655.0 1664.0,654.0 C1665.4,653.0 1666.8,651.9 1668.2,650.6 C1669.6,649.3 1671.0,647.9 1672.5,646.1 C1673.9,644.3 1675.3,642.1 1676.7,639.8 C1678.1,637.4 1679.5,634.7 1680.9,631.9 C1682.4,629.1 1683.8,626.1 1685.2,623.0 C1686.6,619.9 1688.0,616.6 1689.4,613.2 C1690.8,609.8 1692.2,606.2 1693.7,602.7 C1695.1,599.2 1696.5,595.6 1697.9,592.0 C1699.3,588.4 1700.7,584.7 1702.1,581.0 C1703.6,577.4 1705.0,573.7 1706.4,570.1 C1707.8,566.5 1709.2,563.0 1710.6,559.5 C1712.0,556.0 1713.4,552.2 1714.9,549.0 C1716.3,545.7 1717.7,542.6 1719.1,539.9 C1720.5,537.3 1721.9,535.1 1723.3,533.2 C1724.8,531.2 1726.2,529.6 1727.6,528.2 C1729.0,526.7 1730.4,525.6 1731.8,524.6 C1733.2,523.7 1734.6,523.0 1736.1,522.5 C1737.5,522.0 1738.9,521.8 1740.3,521.7 C1741.7,521.6 1743.1,521.8 1744.5,522.0 C1746.0,522.3 1747.4,522.7 1748.8,523.2 C1750.2,523.7 1751.6,524.2 1753.0,524.9 C1754.4,525.5 1755.8,526.1 1757.3,526.8 C1758.7,527.5 1760.1,528.4 1761.5,529.2 C1762.9,530.0 1764.3,531.0 1765.7,531.9 C1767.2,532.7 1768.6,533.6 1770.0,534.5 C1771.4,535.4 1772.8,536.2 1774.2,537.1 C1775.6,537.9 1777.0,538.8 1778.5,539.7 C1779.9,540.6 1781.3,541.4 1782.7,542.3 C1784.1,543.2 1785.5,544.1 1786.9,544.9 C1788.4,545.7 1789.8,546.6 1791.2,547.4 C1792.6,548.2 1794.0,549.0 1795.4,549.7 C1796.8,550.5 1798.2,551.2 1799.7,552.0 C1801.1,552.7 1802.5,553.4 1803.9,554.2 C1805.3,554.9 1806.7,555.6 1808.1,556.3 C1809.6,557.0 1811.0,557.7 1812.4,558.4 C1813.8,559.1 1815.2,559.7 1816.6,560.4 C1818.0,561.1 1819.4,561.8 1820.9,562.4 C1822.3,563.1 1823.7,563.8 1825.1,564.5 C1826.5,565.1 1827.9,565.8 1829.3,566.5 C1830.8,567.2 1832.2,567.9 1833.6,568.5 C1835.0,569.2 1836.4,569.9 1837.8,570.6 C1839.2,571.3 1840.6,572.0 1842.1,572.7 C1843.5,573.4 1844.9,574.1 1846.3,574.8 C1847.7,575.5 1849.1,576.2 1850.5,577.0 C1852.0,577.7 1853.4,578.4 1854.8,579.2 C1856.2,579.9 1857.6,580.6 1859.0,581.4 C1860.4,582.1 1861.8,582.9 1863.3,583.7 C1864.7,584.4 1866.1,585.2 1867.5,586.0 C1868.9,586.7 1870.3,587.5 1871.7,588.3 C1873.2,589.0 1874.6,589.8 1876.0,590.6 C1877.4,591.4 1878.8,592.1 1880.2,592.9 C1881.6,593.6 1883.0,594.4 1884.5,595.2 C1885.9,595.9 1887.3,596.7 1888.7,597.4 C1890.1,598.1 1891.5,598.9 1892.9,599.6 C1894.4,600.3 1895.8,601.0 1897.2,601.7 C1898.6,602.4 1900.0,603.1 1901.4,603.8 C1902.8,604.5 1904.2,605.1 1905.7,605.8 C1907.1,606.5 1908.5,607.2 1909.9,607.9 C1911.3,608.5 1912.7,609.2 1914.1,609.9 C1915.6,610.5 1917.0,611.2 1918.4,611.9 C1919.8,612.6 1921.2,613.2 1922.6,613.9 C1924.0,614.6 1925.4,615.3 1926.9,615.9 C1928.3,616.6 1929.7,617.2 1931.1,617.9 C1932.5,618.6 1933.9,619.2 1935.3,619.9 C1936.8,620.5 1938.2,621.1 1939.6,621.8 C1941.0,622.4 1942.4,623.0 1943.8,623.6 C1945.2,624.3 1946.6,624.9 1948.1,625.5 C1949.5,626.1 1951.6,626.9 1952.3,627.2" fill="none" stroke="#c3d4ea" stroke-width="2.0" stroke-opacity="0.9" stroke-linejoin="round"/>
<path d="M1528.3,757.6 C1529.0,757.6 1531.1,757.6 1532.5,757.5 C1534.0,757.5 1535.4,757.5 1536.8,757.5 C1538.2,757.5 1539.6,757.4 1541.0,757.4 C1542.4,757.4 1543.8,757.4 1545.3,757.4 C1546.7,757.4 1548.1,757.3 1549.5,757.3 C1550.9,757.3 1552.3,757.3 1553.7,757.3 C1555.2,757.2 1556.6,757.2 1558.0,757.2 C1559.4,757.2 1560.8,757.1 1562.2,757.1 C1563.6,757.1 1565.0,757.1 1566.5,757.0 C1567.9,757.0 1569.3,756.9 1570.7,756.9 C1572.1,756.8 1573.5,756.8 1574.9,756.8 C1576.4,756.7 1577.8,756.7 1579.2,756.6 C1580.6,756.6 1582.0,756.6 1583.4,756.5 C1584.8,756.5 1586.2,756.4 1587.7,756.3 C1589.1,756.3 1590.5,756.2 1591.9,756.1 C1593.3,756.0 1594.7,755.9 1596.1,755.8 C1597.6,755.7 1599.0,755.6 1600.4,755.5 C1601.8,755.3 1603.2,755.2 1604.6,755.0 C1606.0,754.8 1607.4,754.7 1608.9,754.5 C1610.3,754.3 1611.7,754.2 1613.1,754.0 C1614.5,753.8 1615.9,753.6 1617.3,753.4 C1618.8,753.2 1620.2,753.0 1621.6,752.8 C1623.0,752.6 1624.4,752.3 1625.8,752.1 C1627.2,751.8 1628.6,751.5 1630.1,751.2 C1631.5,750.9 1632.9,750.6 1634.3,750.3 C1635.7,749.9 1637.1,749.6 1638.5,749.1 C1640.0,748.7 1641.4,748.3 1642.8,747.8 C1644.2,747.3 1645.6,746.8 1647.0,746.2 C1648.4,745.6 1649.8,745.0 1651.3,744.3 C1652.7,743.6 1654.1,742.9 1655.5,742.2 C1656.9,741.4 1658.3,740.6 1659.7,739.7 C1661.2,738.8 1662.6,738.0 1664.0,736.8 C1665.4,735.7 1666.8,734.3 1668.2,732.8 C1669.6,731.3 1671.0,729.6 1672.5,727.8 C1673.9,726.0 1675.3,724.1 1676.7,722.1 C1678.1,720.1 1679.5,717.9 1680.9,715.5 C1682.4,713.1 1683.8,710.6 1685.2,707.7 C1686.6,704.9 1688.0,701.7 1689.4,698.5 C1690.8,695.2 1692.2,691.7 1693.7,688.2 C1695.1,684.7 1696.5,681.2 1697.9,677.6 C1699.3,674.0 1700.7,670.4 1702.1,666.8 C1703.6,663.1 1705.0,659.3 1706.4,655.6 C1707.8,651.8 1709.2,648.0 1710.6,644.3 C1712.0,640.5 1713.4,636.8 1714.9,632.9 C1716.3,629.1 1717.7,625.1 1719.1,621.1 C1720.5,617.2 1721.9,613.1 1723.3,609.1 C1724.8,605.1 1726.2,601.0 1727.6,597.1 C1729.0,593.2 1730.4,589.5 1731.8,585.9 C1733.2,582.3 1734.6,578.9 1736.1,575.7 C1737.5,572.4 1738.9,569.2 1740.3,566.2 C1741.7,563.3 1743.1,560.4 1744.5,557.7 C1746.0,555.1 1747.4,552.6 1748.8,550.3 C1750.2,548.0 1751.6,545.9 1753.0,543.9 C1754.4,542.0 1755.8,540.3 1757.3,538.7 C1758.7,537.2 1760.1,535.8 1761.5,534.5 C1762.9,533.3 1764.3,532.3 1765.7,531.4 C1767.2,530.5 1768.6,529.9 1770.0,529.3 C1771.4,528.7 1772.8,528.3 1774.2,527.9 C1775.6,527.6 1777.0,527.3 1778.5,527.2 C1779.9,527.0 1781.3,527.0 1782.7,527.0 C1784.1,527.1 1785.5,527.3 1786.9,527.5 C1788.4,527.8 1789.8,528.1 1791.2,528.4 C1792.6,528.8 1794.0,529.2 1795.4,529.6 C1796.8,530.0 1798.2,530.5 1799.7,531.0 C1801.1,531.5 1802.5,532.1 1803.9,532.7 C1805.3,533.3 1806.7,533.9 1808.1,534.6 C1809.6,535.3 1811.0,536.0 1812.4,536.8 C1813.8,537.6 1815.2,538.4 1816.6,539.3 C1818.0,540.1 1819.4,541.1 1820.9,542.0 C1822.3,542.9 1823.7,543.8 1825.1,544.7 C1826.5,545.6 1827.9,546.5 1829.3,547.4 C1830.8,548.4 1832.2,549.3 1833.6,550.2 C1835.0,551.1 1836.4,552.0 1837.8,553.0 C1839.2,554.1 1840.6,555.1 1842.1,556.3 C1843.5,557.4 1844.9,558.7 1846.3,559.9 C1847.7,561.2 1849.1,562.5 1850.5,563.8 C1852.0,565.1 1853.4,566.5 1854.8,567.8 C1856.2,569.2 1857.6,570.5 1859.0,571.9 C1860.4,573.3 1861.8,574.6 1863.3,576.0 C1864.7,577.3 1866.1,578.6 1867.5,579.9 C1868.9,581.1 1870.3,582.4 1871.7,583.5 C1873.2,584.7 1874.6,585.8 1876.0,586.8 C1877.4,587.8 1878.8,588.7 1880.2,589.6 C1881.6,590.5 1883.0,591.4 1884.5,592.2 C1885.9,593.1 1887.3,593.9 1888.7,594.7 C1890.1,595.5 1891.5,596.3 1892.9,597.0 C1894.4,597.6 1895.8,598.3 1897.2,598.9 C1898.6,599.5 1900.0,600.0 1901.4,600.5 C1902.8,601.0 1904.2,601.5 1905.7,601.9 C1907.1,602.3 1908.5,602.7 1909.9,603.1 C1911.3,603.5 1912.7,603.8 1914.1,604.2 C1915.6,604.5 1917.0,604.8 1918.4,605.1 C1919.8,605.4 1921.2,605.7 1922.6,606.0 C1924.0,606.3 1925.4,606.6 1926.9,606.9 C1928.3,607.1 1929.7,607.4 1931.1,607.7 C1932.5,608.0 1933.9,608.2 1935.3,608.5 C1936.8,608.8 1938.2,609.2 1939.6,609.5 C1941.0,609.8 1942.4,610.2 1943.8,610.6 C1945.2,611.0 1946.6,611.4 1948.1,611.9 C1949.5,612.4 1951.6,613.2 1952.3,613.5" fill="none" stroke="#cf7a7a" stroke-width="2.0" stroke-opacity="0.75" stroke-linejoin="round"/>
<path d="M1528.3,757.6 C1529.0,757.6 1531.1,757.6 1532.5,757.5 C1534.0,757.5 1535.4,757.5 1536.8,757.5 C1538.2,757.5 1539.6,757.4 1541.0,757.4 C1542.4,757.4 1543.8,757.4 1545.3,757.4 C1546.7,757.4 1548.1,757.3 1549.5,757.3 C1550.9,757.3 1552.3,757.3 1553.7,757.3 C1555.2,757.2 1556.6,757.2 1558.0,757.2 C1559.4,757.2 1560.8,757.1 1562.2,757.1 C1563.6,757.1 1565.0,757.1 1566.5,757.0 C1567.9,757.0 1569.3,756.9 1570.7,756.9 C1572.1,756.8 1573.5,756.8 1574.9,756.8 C1576.4,756.7 1577.8,756.7 1579.2,756.6 C1580.6,756.6 1582.0,756.6 1583.4,756.5 C1584.8,756.5 1586.2,756.4 1587.7,756.3 C1589.1,756.3 1590.5,756.2 1591.9,756.1 C1593.3,756.0 1594.7,755.9 1596.1,755.8 C1597.6,755.7 1599.0,755.6 1600.4,755.5 C1601.8,755.3 1603.2,755.2 1604.6,755.0 C1606.0,754.8 1607.4,754.7 1608.9,754.5 C1610.3,754.3 1611.7,754.2 1613.1,754.0 C1614.5,753.8 1615.9,753.6 1617.3,753.4 C1618.8,753.2 1620.2,753.0 1621.6,752.8 C1623.0,752.6 1624.4,752.3 1625.8,752.1 C1627.2,751.8 1628.6,751.5 1630.1,751.2 C1631.5,750.9 1632.9,750.6 1634.3,750.3 C1635.7,749.9 1637.1,749.6 1638.5,749.1 C1640.0,748.7 1641.4,748.3 1642.8,747.8 C1644.2,747.3 1645.6,746.8 1647.0,746.2 C1648.4,745.6 1649.8,745.0 1651.3,744.3 C1652.7,743.6 1654.1,742.9 1655.5,742.2 C1656.9,741.4 1658.3,740.6 1659.7,739.7 C1661.2,738.8 1662.6,738.0 1664.0,736.8 C1665.4,735.7 1666.8,734.3 1668.2,732.8 C1669.6,731.3 1671.0,729.6 1672.5,727.8 C1673.9,726.0 1675.3,724.1 1676.7,722.1 C1678.1,720.1 1679.5,717.9 1680.9,715.5 C1682.4,713.1 1683.8,710.5 1685.2,707.7 C1686.6,704.9 1688.0,701.6 1689.4,698.6 C1690.8,695.6 1692.2,692.5 1693.7,689.6 C1695.1,686.6 1696.5,683.7 1697.9,680.9 C1699.3,678.1 1700.7,675.5 1702.1,672.8 C1703.6,670.0 1705.0,667.3 1706.4,664.5 C1707.8,661.7 1709.2,658.9 1710.6,656.0 C1712.0,653.1 1713.4,650.3 1714.9,647.1 C1716.3,644.0 1717.7,640.7 1719.1,637.2 C1720.5,633.8 1721.9,630.0 1723.3,626.3 C1724.8,622.5 1726.2,618.5 1727.6,614.9 C1729.0,611.2 1730.4,607.8 1731.8,604.5 C1733.2,601.2 1734.6,598.2 1736.1,595.2 C1737.5,592.3 1738.9,589.5 1740.3,586.9 C1741.7,584.3 1743.1,581.9 1744.5,579.6 C1746.0,577.3 1747.4,575.2 1748.8,573.2 C1750.2,571.3 1751.6,569.6 1753.0,568.0 C1754.4,566.4 1755.8,564.9 1757.3,563.6 C1758.7,562.3 1760.1,561.1 1761.5,560.0 C1762.9,559.0 1764.3,558.0 1765.7,557.2 C1767.2,556.3 1768.6,555.7 1770.0,555.1 C1771.4,554.5 1772.8,554.1 1774.2,553.7 C1775.6,553.4 1777.0,553.1 1778.5,552.9 C1779.9,552.8 1781.3,552.7 1782.7,552.8 C1784.1,552.9 1785.5,553.1 1786.9,553.3 C1788.4,553.6 1789.8,553.9 1791.2,554.2 C1792.6,554.6 1794.0,555.0 1795.4,555.3 C1796.8,555.7 1798.2,556.1 1799.7,556.5 C1801.1,557.0 1802.5,557.4 1803.9,557.9 C1805.3,558.3 1806.7,558.8 1808.1,559.3 C1809.6,559.8 1811.0,560.3 1812.4,560.8 C1813.8,561.4 1815.2,562.0 1816.6,562.6 C1818.0,563.2 1819.4,563.8 1820.9,564.5 C1822.3,565.1 1823.7,565.7 1825.1,566.3 C1826.5,566.9 1827.9,567.5 1829.3,568.1 C1830.8,568.8 1832.2,569.4 1833.6,570.0 C1835.0,570.6 1836.4,571.2 1837.8,571.9 C1839.2,572.5 1840.6,573.1 1842.1,573.8 C1843.5,574.5 1844.9,575.1 1846.3,575.8 C1847.7,576.5 1849.1,577.2 1850.5,577.9 C1852.0,578.6 1853.4,579.3 1854.8,580.1 C1856.2,580.8 1857.6,581.6 1859.0,582.4 C1860.4,583.2 1861.8,584.0 1863.3,584.9 C1864.7,585.8 1866.1,586.7 1867.5,587.6 C1868.9,588.6 1870.3,589.5 1871.7,590.5 C1873.2,591.4 1874.6,592.3 1876.0,593.2 C1877.4,594.2 1878.8,595.1 1880.2,596.0 C1881.6,596.9 1883.0,597.7 1884.5,598.6 C1885.9,599.4 1887.3,600.3 1888.7,601.1 C1890.1,601.9 1891.5,602.6 1892.9,603.3 C1894.4,603.9 1895.8,604.5 1897.2,605.1 C1898.6,605.6 1900.0,606.1 1901.4,606.5 C1902.8,606.9 1904.2,607.2 1905.7,607.6 C1907.1,607.9 1908.5,608.2 1909.9,608.4 C1911.3,608.7 1912.7,608.9 1914.1,609.1 C1915.6,609.3 1917.0,609.5 1918.4,609.7 C1919.8,609.9 1921.2,610.0 1922.6,610.2 C1924.0,610.4 1925.4,610.5 1926.9,610.6 C1928.3,610.8 1929.7,610.9 1931.1,611.1 C1932.5,611.3 1933.9,611.4 1935.3,611.6 C1936.8,611.8 1938.2,612.0 1939.6,612.3 C1941.0,612.5 1942.4,612.8 1943.8,613.2 C1945.2,613.5 1946.6,613.9 1948.1,614.3 C1949.5,614.8 1951.6,615.6 1952.3,615.9" fill="none" stroke="#d99a9a" stroke-width="2.0" stroke-opacity="0.75" stroke-linejoin="round"/>
<path d="M1528.3,757.5 C1529.0,757.5 1531.1,757.5 1532.5,757.5 C1534.0,757.4 1535.4,757.4 1536.8,757.4 C1538.2,757.4 1539.6,757.4 1541.0,757.4 C1542.4,757.3 1543.8,757.3 1545.3,757.3 C1546.7,757.3 1548.1,757.3 1549.5,757.2 C1550.9,757.2 1552.3,757.2 1553.7,757.2 C1555.2,757.1 1556.6,757.1 1558.0,757.1 C1559.4,757.0 1560.8,757.0 1562.2,757.0 C1563.6,756.9 1565.0,756.9 1566.5,756.8 C1567.9,756.8 1569.3,756.7 1570.7,756.7 C1572.1,756.7 1573.5,756.6 1574.9,756.6 C1576.4,756.5 1577.8,756.5 1579.2,756.4 C1580.6,756.4 1582.0,756.3 1583.4,756.2 C1584.8,756.2 1586.2,756.1 1587.7,756.0 C1589.1,755.9 1590.5,755.8 1591.9,755.7 C1593.3,755.5 1594.7,755.4 1596.1,755.2 C1597.6,755.1 1599.0,754.9 1600.4,754.8 C1601.8,754.6 1603.2,754.4 1604.6,754.3 C1606.0,754.1 1607.4,753.9 1608.9,753.7 C1610.3,753.5 1611.7,753.3 1613.1,753.1 C1614.5,752.9 1615.9,752.7 1617.3,752.5 C1618.8,752.2 1620.2,752.0 1621.6,751.7 C1623.0,751.4 1624.4,751.1 1625.8,750.8 C1627.2,750.5 1628.6,750.1 1630.1,749.7 C1631.5,749.3 1632.9,748.9 1634.3,748.5 C1635.7,748.0 1637.1,747.6 1638.5,747.0 C1640.0,746.5 1641.4,745.9 1642.8,745.3 C1644.2,744.7 1645.6,744.0 1647.0,743.3 C1648.4,742.6 1649.8,741.8 1651.3,741.0 C1652.7,740.2 1654.1,739.4 1655.5,738.4 C1656.9,737.4 1658.3,736.3 1659.7,734.9 C1661.2,733.6 1662.6,732.0 1664.0,730.4 C1665.4,728.7 1666.8,726.9 1668.2,725.0 C1669.6,723.1 1671.0,721.2 1672.5,719.0 C1673.9,716.8 1675.3,714.4 1676.7,711.8 C1678.1,709.2 1679.5,706.3 1680.9,703.2 C1682.4,700.2 1683.8,696.8 1685.2,693.4 C1686.6,690.0 1688.0,686.5 1689.4,682.9 C1690.8,679.4 1692.2,675.8 1693.7,672.2 C1695.1,668.6 1696.5,664.9 1697.9,661.2 C1699.3,657.5 1700.7,653.7 1702.1,649.9 C1703.6,646.2 1705.0,642.4 1706.4,638.6 C1707.8,634.8 1709.2,631.0 1710.6,627.0 C1712.0,623.0 1713.4,618.8 1714.9,614.6 C1716.3,610.4 1717.7,606.0 1719.1,601.8 C1720.5,597.5 1721.9,593.3 1723.3,589.2 C1724.8,585.2 1726.2,581.3 1727.6,577.5 C1729.0,573.7 1730.4,570.0 1731.8,566.5 C1733.2,563.0 1734.6,559.6 1736.1,556.5 C1737.5,553.3 1738.9,550.3 1740.3,547.5 C1741.7,544.8 1743.1,542.2 1744.5,540.0 C1746.0,537.8 1747.4,535.8 1748.8,534.1 C1750.2,532.4 1751.6,531.1 1753.0,529.8 C1754.4,528.5 1755.8,527.3 1757.3,526.3 C1758.7,525.3 1760.1,524.4 1761.5,523.7 C1762.9,523.0 1764.3,522.4 1765.7,521.9 C1767.2,521.4 1768.6,521.0 1770.0,520.7 C1771.4,520.5 1772.8,520.3 1774.2,520.2 C1775.6,520.2 1777.0,520.3 1778.5,520.4 C1779.9,520.6 1781.3,520.8 1782.7,521.2 C1784.1,521.6 1785.5,522.1 1786.9,522.8 C1788.4,523.5 1789.8,524.3 1791.2,525.3 C1792.6,526.2 1794.0,527.4 1795.4,528.6 C1796.8,529.9 1798.2,531.2 1799.7,532.6 C1801.1,534.0 1802.5,535.5 1803.9,537.0 C1805.3,538.5 1806.7,540.0 1808.1,541.6 C1809.6,543.1 1811.0,544.7 1812.4,546.2 C1813.8,547.7 1815.2,549.2 1816.6,550.6 C1818.0,552.0 1819.4,553.3 1820.9,554.4 C1822.3,555.6 1823.7,556.6 1825.1,557.6 C1826.5,558.6 1827.9,559.4 1829.3,560.3 C1830.8,561.3 1832.2,562.2 1833.6,563.1 C1835.0,564.0 1836.4,565.0 1837.8,565.9 C1839.2,566.8 1840.6,567.8 1842.1,568.7 C1843.5,569.6 1844.9,570.6 1846.3,571.5 C1847.7,572.4 1849.1,573.3 1850.5,574.2 C1852.0,575.2 1853.4,576.1 1854.8,577.0 C1856.2,577.9 1857.6,578.9 1859.0,579.8 C1860.4,580.8 1861.8,581.7 1863.3,582.7 C1864.7,583.6 1866.1,584.5 1867.5,585.5 C1868.9,586.4 1870.3,587.3 1871.7,588.2 C1873.2,589.1 1874.6,590.0 1876.0,590.9 C1877.4,591.8 1878.8,592.6 1880.2,593.5 C1881.6,594.3 1883.0,595.1 1884.5,595.9 C1885.9,596.7 1887.3,597.5 1888.7,598.2 C1890.1,599.0 1891.5,599.7 1892.9,600.5 C1894.4,601.2 1895.8,601.9 1897.2,602.6 C1898.6,603.3 1900.0,604.0 1901.4,604.7 C1902.8,605.4 1904.2,606.1 1905.7,606.7 C1907.1,607.4 1908.5,608.1 1909.9,608.7 C1911.3,609.4 1912.7,610.0 1914.1,610.7 C1915.6,611.3 1917.0,611.9 1918.4,612.5 C1919.8,613.2 1921.2,613.8 1922.6,614.3 C1924.0,614.9 1925.4,615.5 1926.9,616.1 C1928.3,616.6 1929.7,617.2 1931.1,617.8 C1932.5,618.3 1933.9,618.9 1935.3,619.4 C1936.8,620.0 1938.2,620.6 1939.6,621.1 C1941.0,621.7 1942.4,622.4 1943.8,622.8 C1945.2,623.2 1946.6,623.5 1948.1,623.7 C1949.5,623.8 1951.6,623.7 1952.3,623.7" fill="none" stroke="#efc4c4" stroke-width="2.0" stroke-opacity="0.9" stroke-linejoin="round"/>
<path d="M1528.3,745.8 C1531.8,746.0 1542.4,746.2 1549.5,747.0 C1556.6,747.7 1563.6,749.2 1570.7,750.5 C1577.8,751.8 1584.8,753.6 1591.9,754.8 C1599.0,755.9 1607.8,757.1 1613.1,757.6 C1618.4,758.1 1621.9,757.6 1623.7,757.6" fill="none" stroke="#efcaca" stroke-width="2.0" stroke-opacity="0.9" stroke-linejoin="round"/>
<line x1="1698.5" y1="474.0" x2="1698.5" y2="757.0" stroke="#d98080" stroke-width="1.6" stroke-dasharray="1.6 3.2"/>
<line x1="1714.4" y1="474.0" x2="1714.4" y2="757.0" stroke="#7fa3d6" stroke-width="1.6" stroke-dasharray="1.6 3.2"/>
<path d="M1528.3,757.6 C1535.4,757.5 1558.3,757.3 1570.7,756.9 C1583.1,756.5 1591.3,756.5 1602.5,755.2 C1613.7,754.0 1628.1,752.1 1637.9,749.3 C1647.7,746.6 1655.6,742.4 1661.4,738.7 C1667.3,734.9 1669.3,731.9 1673.2,726.8 C1677.1,721.8 1680.7,716.6 1685.0,708.2 C1689.2,699.7 1693.7,688.0 1698.5,676.0 C1703.3,663.9 1708.3,650.3 1713.8,635.8 C1719.3,621.2 1725.8,601.3 1731.4,588.4 C1736.9,575.6 1741.9,566.3 1747.1,558.6 C1752.3,550.9 1757.5,545.8 1762.8,542.1 C1768.0,538.3 1773.2,536.6 1778.5,535.9 C1783.7,535.2 1789.1,536.6 1794.4,538.0 C1799.7,539.5 1805.0,541.8 1810.3,544.4 C1815.5,547.1 1818.0,548.9 1825.7,553.9 C1833.5,558.9 1846.4,567.5 1856.9,574.2 C1867.4,581.0 1878.0,588.5 1888.5,594.6 C1899.0,600.6 1909.3,605.6 1920.0,610.4 C1930.6,615.3 1946.9,621.5 1952.3,623.7" fill="none" stroke="#a51d22" stroke-width="2.8" stroke-opacity="1" stroke-linejoin="round"/>
<path d="M1528.3,588.0 C1530.8,589.5 1537.1,593.3 1543.6,597.4 C1550.0,601.5 1559.2,607.1 1567.1,612.6 C1575.0,618.0 1582.9,625.0 1590.7,630.3 C1598.6,635.6 1606.4,640.6 1614.3,644.5 C1622.1,648.4 1632.0,652.1 1637.9,653.5 C1643.8,654.9 1645.7,653.5 1649.7,652.8 C1653.6,652.1 1657.5,651.4 1661.4,649.2 C1665.4,647.1 1669.3,644.5 1673.2,639.8 C1677.1,635.0 1681.0,628.4 1685.0,620.8 C1688.9,613.3 1692.9,603.7 1696.8,594.3 C1700.8,585.0 1704.8,573.8 1708.5,564.8 C1712.2,555.7 1715.6,546.4 1719.1,539.9 C1722.6,533.5 1726.1,529.2 1729.7,526.2 C1733.3,523.2 1736.6,521.8 1740.8,521.7 C1745.1,521.6 1750.1,523.5 1755.0,525.7 C1760.0,527.9 1764.2,531.1 1770.7,535.0 C1777.3,538.9 1785.2,544.2 1794.4,549.2 C1803.5,554.1 1815.3,559.8 1825.7,564.8 C1836.2,569.7 1846.4,574.2 1856.9,579.0 C1867.4,583.7 1878.0,588.7 1888.5,593.2 C1899.0,597.6 1909.3,601.4 1920.0,605.7 C1930.6,610.0 1946.9,616.7 1952.3,619.0" fill="none" stroke="#1f5ca6" stroke-width="2.8" stroke-opacity="1" stroke-linejoin="round"/>
<line x1="1698.5" y1="474.0" x2="1714.4" y2="474.0" stroke="#000" stroke-width="1.6"/>
<line x1="1698.5" y1="469.0" x2="1698.5" y2="479.0" stroke="#000" stroke-width="1.6"/>
<line x1="1714.4" y1="469.0" x2="1714.4" y2="479.0" stroke="#000" stroke-width="1.6"/>
<text x="1714.0" y="461.5" font-size="22.5" text-anchor="middle">1.43°C</text>
<line x1="1527.6" y1="472.3" x2="1527.6" y2="759.0" stroke="#000" stroke-width="2.7" stroke-linecap="butt"/>
<line x1="1516.7" y1="473.7" x2="1527.6" y2="473.7" stroke="#000" stroke-width="2.7"/>
<text x="1511.7" y="482.0" font-size="23" text-anchor="end">1.2</text>
<line x1="1516.7" y1="568.3" x2="1527.6" y2="568.3" stroke="#000" stroke-width="2.7"/>
<text x="1511.7" y="576.6" font-size="23" text-anchor="end">0.8</text>
<line x1="1516.7" y1="663.0" x2="1527.6" y2="663.0" stroke="#000" stroke-width="2.7"/>
<text x="1511.7" y="671.2" font-size="23" text-anchor="end">0.4</text>
<line x1="1516.7" y1="757.6" x2="1527.6" y2="757.6" stroke="#000" stroke-width="2.7"/>
<text x="1511.7" y="765.9" font-size="23" text-anchor="end">0.0</text>
<line x1="1527.6" y1="757.6" x2="1954.0" y2="757.6" stroke="#000" stroke-width="2.7"/>
<line x1="1528.3" y1="757.6" x2="1528.3" y2="767.6" stroke="#000" stroke-width="2.7"/>
<line x1="1634.3" y1="757.6" x2="1634.3" y2="767.6" stroke="#000" stroke-width="2.7"/>
<line x1="1740.3" y1="757.6" x2="1740.3" y2="767.6" stroke="#000" stroke-width="2.7"/>
<line x1="1846.3" y1="757.6" x2="1846.3" y2="767.6" stroke="#000" stroke-width="2.7"/>
<line x1="1952.3" y1="757.6" x2="1952.3" y2="767.6" stroke="#000" stroke-width="2.7"/>
<text x="1528.3" y="795.5" font-size="22.5" text-anchor="middle">30</text>
<text x="1634.3" y="795.5" font-size="22.5" text-anchor="middle">40</text>
<text x="1740.3" y="795.5" font-size="22.5" text-anchor="middle">50</text>
<text x="1846.3" y="795.5" font-size="22.5" text-anchor="middle">60</text>
<text x="1952.3" y="795.5" font-size="22.5" text-anchor="middle">70</text>
<text x="1741.0" y="831.6" font-size="22.6" text-anchor="middle">Temperature (°C)</text>
<text transform="translate(1467.0,614.0) rotate(-90)" font-size="22.5" text-anchor="middle">Normalized RFU</text>
<line x1="1747.0" y1="699.0" x2="1779.0" y2="699.0" stroke="#a51d22" stroke-width="2.8"/>
<text x="1794.5" y="707.0" font-size="22.8">NMRAL1</text>
<line x1="1747.0" y1="722.5" x2="1779.0" y2="722.5" stroke="#1f5ca6" stroke-width="2.8"/>
<text x="1794.5" y="731.5" font-size="22.8">NMRAL1+NTZ</text>
<text x="1729.5" y="891.7" font-size="24.7" text-anchor="middle" font-weight="bold">Kinetics fit model</text>
<path d="M1527.7,1153.3 L1565.0,1153.3 L1565.0,1016.6 L1565.0,1016.6 L1573.0,1013.3 L1580.9,1010.2 L1588.9,1007.4 L1596.9,1004.8 L1604.8,1002.4 L1612.8,1000.3 L1620.8,998.3 L1628.7,996.5 L1636.7,994.8 L1644.7,993.3 L1652.6,992.0 L1660.6,990.7 L1668.6,989.5 L1676.5,988.5 L1684.5,987.5 L1692.5,986.6 L1700.4,985.8 L1708.4,985.1 L1716.4,984.4 L1724.3,983.8 L1732.3,983.2 L1740.3,982.7 L1748.2,982.2 L1756.2,981.8 L1764.2,981.4 L1772.1,981.0 L1780.1,980.7 L1788.1,980.4 L1796.0,980.1 L1804.0,979.9 L1804.0,1116.5 L1804.0,1116.5 L1808.0,1117.2 L1812.0,1117.8 L1816.0,1118.4 L1820.0,1119.0 L1824.0,1119.6 L1828.0,1120.1 L1832.0,1120.6 L1836.0,1121.1 L1840.0,1121.6 L1844.0,1122.1 L1848.0,1122.6 L1852.0,1123.0 L1856.0,1123.4 L1860.0,1123.9 L1864.0,1124.3 L1868.0,1124.7 L1872.0,1125.0 L1876.0,1125.4 L1880.0,1125.8 L1884.0,1126.1 L1888.0,1126.4 L1892.0,1126.7 L1896.0,1127.0 L1900.0,1127.3 L1904.0,1127.6 L1908.0,1127.9 L1912.0,1128.2 L1916.0,1128.4 L1920.0,1128.7 L1924.0,1128.9" fill="none" stroke="#F3BFAF" stroke-width="2.2" stroke-linejoin="round"/>
<path d="M1527.7,1153.3 L1565.0,1153.3 L1565.0,1035.2 L1565.0,1035.2 L1573.0,1033.0 L1580.9,1031.0 L1588.9,1029.1 L1596.9,1027.3 L1604.8,1025.7 L1612.8,1024.2 L1620.8,1022.8 L1628.7,1021.5 L1636.7,1020.2 L1644.7,1019.1 L1652.6,1018.0 L1660.6,1017.1 L1668.6,1016.1 L1676.5,1015.3 L1684.5,1014.5 L1692.5,1013.8 L1700.4,1013.1 L1708.4,1012.4 L1716.4,1011.9 L1724.3,1011.3 L1732.3,1010.8 L1740.3,1010.3 L1748.2,1009.9 L1756.2,1009.5 L1764.2,1009.1 L1772.1,1008.7 L1780.1,1008.4 L1788.1,1008.1 L1796.0,1007.8 L1804.0,1007.6 L1804.0,1125.4 L1804.0,1125.4 L1808.0,1125.9 L1812.0,1126.4 L1816.0,1126.9 L1820.0,1127.3 L1824.0,1127.8 L1828.0,1128.2 L1832.0,1128.6 L1836.0,1129.0 L1840.0,1129.4 L1844.0,1129.8 L1848.0,1130.1 L1852.0,1130.5 L1856.0,1130.8 L1860.0,1131.2 L1864.0,1131.5 L1868.0,1131.8 L1872.0,1132.1 L1876.0,1132.4 L1880.0,1132.6 L1884.0,1132.9 L1888.0,1133.2 L1892.0,1133.4 L1896.0,1133.7 L1900.0,1133.9 L1904.0,1134.1 L1908.0,1134.3 L1912.0,1134.5 L1916.0,1134.8 L1920.0,1134.9 L1924.0,1135.1" fill="none" stroke="#BEC2C6" stroke-width="2.2" stroke-linejoin="round"/>
<path d="M1527.7,1153.3 L1565.0,1153.3 L1565.0,1096.2 L1565.0,1096.2 L1573.0,1095.0 L1580.9,1093.8 L1588.9,1092.7 L1596.9,1091.7 L1604.8,1090.8 L1612.8,1089.9 L1620.8,1089.0 L1628.7,1088.2 L1636.7,1087.5 L1644.7,1086.7 L1652.6,1086.1 L1660.6,1085.4 L1668.6,1084.8 L1676.5,1084.2 L1684.5,1083.7 L1692.5,1083.2 L1700.4,1082.7 L1708.4,1082.3 L1716.4,1081.8 L1724.3,1081.4 L1732.3,1081.0 L1740.3,1080.7 L1748.2,1080.3 L1756.2,1080.0 L1764.2,1079.7 L1772.1,1079.4 L1780.1,1079.2 L1788.1,1078.9 L1796.0,1078.7 L1804.0,1078.4 L1804.0,1135.6 L1804.0,1135.6 L1808.0,1135.9 L1812.0,1136.2 L1816.0,1136.5 L1820.0,1136.8 L1824.0,1137.1 L1828.0,1137.4 L1832.0,1137.6 L1836.0,1137.9 L1840.0,1138.1 L1844.0,1138.4 L1848.0,1138.6 L1852.0,1138.8 L1856.0,1139.0 L1860.0,1139.2 L1864.0,1139.4 L1868.0,1139.6 L1872.0,1139.8 L1876.0,1140.0 L1880.0,1140.2 L1884.0,1140.4 L1888.0,1140.5 L1892.0,1140.7 L1896.0,1140.8 L1900.0,1141.0 L1904.0,1141.1 L1908.0,1141.3 L1912.0,1141.4 L1916.0,1141.5 L1920.0,1141.7 L1924.0,1141.8" fill="none" stroke="#E27A78" stroke-width="2.2" stroke-linejoin="round"/>
<path d="M1527.7,1153.3 L1565.0,1153.3 L1565.0,1126.1 L1565.0,1126.1 L1573.0,1125.4 L1580.9,1124.8 L1588.9,1124.2 L1596.9,1123.7 L1604.8,1123.2 L1612.8,1122.7 L1620.8,1122.2 L1628.7,1121.7 L1636.7,1121.3 L1644.7,1120.9 L1652.6,1120.5 L1660.6,1120.1 L1668.6,1119.8 L1676.5,1119.4 L1684.5,1119.1 L1692.5,1118.8 L1700.4,1118.5 L1708.4,1118.3 L1716.4,1118.0 L1724.3,1117.8 L1732.3,1117.5 L1740.3,1117.3 L1748.2,1117.1 L1756.2,1116.9 L1764.2,1116.7 L1772.1,1116.5 L1780.1,1116.3 L1788.1,1116.2 L1796.0,1116.0 L1804.0,1115.9 L1804.0,1143.1 L1804.0,1143.1 L1808.0,1143.3 L1812.0,1143.5 L1816.0,1143.6 L1820.0,1143.8 L1824.0,1144.0 L1828.0,1144.1 L1832.0,1144.3 L1836.0,1144.4 L1840.0,1144.6 L1844.0,1144.7 L1848.0,1144.8 L1852.0,1145.0 L1856.0,1145.1 L1860.0,1145.2 L1864.0,1145.3 L1868.0,1145.4 L1872.0,1145.5 L1876.0,1145.6 L1880.0,1145.7 L1884.0,1145.8 L1888.0,1145.9 L1892.0,1146.0 L1896.0,1146.1 L1900.0,1146.2 L1904.0,1146.3 L1908.0,1146.4 L1912.0,1146.4 L1916.0,1146.5 L1920.0,1146.6 L1924.0,1146.7" fill="none" stroke="#82A9D9" stroke-width="2.2" stroke-linejoin="round"/>
<path d="M1527.7,1153.3 L1565.0,1153.3 L1565.0,1139.8 L1565.0,1139.8 L1573.0,1139.4 L1580.9,1139.1 L1588.9,1138.7 L1596.9,1138.4 L1604.8,1138.1 L1612.8,1137.8 L1620.8,1137.5 L1628.7,1137.3 L1636.7,1137.0 L1644.7,1136.8 L1652.6,1136.5 L1660.6,1136.3 L1668.6,1136.1 L1676.5,1135.9 L1684.5,1135.7 L1692.5,1135.5 L1700.4,1135.3 L1708.4,1135.1 L1716.4,1135.0 L1724.3,1134.8 L1732.3,1134.7 L1740.3,1134.5 L1748.2,1134.4 L1756.2,1134.3 L1764.2,1134.1 L1772.1,1134.0 L1780.1,1133.9 L1788.1,1133.8 L1796.0,1133.7 L1804.0,1133.6 L1804.0,1148.2 L1804.0,1148.2 L1808.0,1148.4 L1812.0,1148.5 L1816.0,1148.6 L1820.0,1148.8 L1824.0,1148.9 L1828.0,1149.0 L1832.0,1149.2 L1836.0,1149.3 L1840.0,1149.4 L1844.0,1149.5 L1848.0,1149.6 L1852.0,1149.7 L1856.0,1149.8 L1860.0,1149.9 L1864.0,1150.0 L1868.0,1150.1 L1872.0,1150.2 L1876.0,1150.3 L1880.0,1150.3 L1884.0,1150.4 L1888.0,1150.5 L1892.0,1150.6 L1896.0,1150.6 L1900.0,1150.7 L1904.0,1150.8 L1908.0,1150.8 L1912.0,1150.9 L1916.0,1151.0 L1920.0,1151.0 L1924.0,1151.1" fill="none" stroke="#E9A34E" stroke-width="2.2" stroke-linejoin="round"/>
<path d="M1527.7,1153.3 L1565.0,1153.3 L1565.0,1146.7 L1565.0,1146.7 L1573.0,1146.4 L1580.9,1146.2 L1588.9,1146.0 L1596.9,1145.8 L1604.8,1145.6 L1612.8,1145.4 L1620.8,1145.2 L1628.7,1145.0 L1636.7,1144.8 L1644.7,1144.7 L1652.6,1144.5 L1660.6,1144.4 L1668.6,1144.2 L1676.5,1144.1 L1684.5,1143.9 L1692.5,1143.8 L1700.4,1143.7 L1708.4,1143.6 L1716.4,1143.4 L1724.3,1143.3 L1732.3,1143.2 L1740.3,1143.1 L1748.2,1143.0 L1756.2,1142.9 L1764.2,1142.8 L1772.1,1142.8 L1780.1,1142.7 L1788.1,1142.6 L1796.0,1142.5 L1804.0,1142.4 L1804.0,1150.4 L1804.0,1150.4 L1808.0,1150.5 L1812.0,1150.6 L1816.0,1150.7 L1820.0,1150.7 L1824.0,1150.8 L1828.0,1150.9 L1832.0,1150.9 L1836.0,1151.0 L1840.0,1151.1 L1844.0,1151.1 L1848.0,1151.2 L1852.0,1151.2 L1856.0,1151.3 L1860.0,1151.3 L1864.0,1151.4 L1868.0,1151.4 L1872.0,1151.5 L1876.0,1151.5 L1880.0,1151.6 L1884.0,1151.6 L1888.0,1151.7 L1892.0,1151.7 L1896.0,1151.7 L1900.0,1151.8 L1904.0,1151.8 L1908.0,1151.8 L1912.0,1151.9 L1916.0,1151.9 L1920.0,1151.9 L1924.0,1152.0" fill="none" stroke="#000000" stroke-width="2.2" stroke-linejoin="round"/>
<line x1="1528.0" y1="930.4" x2="1528.0" y2="1198.9" stroke="#000" stroke-width="2.7" stroke-linecap="butt"/>
<line x1="1516.7" y1="931.8" x2="1528.0" y2="931.8" stroke="#000" stroke-width="2.7"/>
<text x="1511.7" y="939.5" font-size="21.3" text-anchor="end">100</text>
<line x1="1516.7" y1="1020.4" x2="1528.0" y2="1020.4" stroke="#000" stroke-width="2.7"/>
<text x="1511.7" y="1028.1" font-size="21.3" text-anchor="end">60</text>
<line x1="1516.7" y1="1109.0" x2="1528.0" y2="1109.0" stroke="#000" stroke-width="2.7"/>
<text x="1511.7" y="1116.7" font-size="21.3" text-anchor="end">20</text>
<line x1="1516.7" y1="1197.6" x2="1528.0" y2="1197.6" stroke="#000" stroke-width="2.7"/>
<text x="1511.7" y="1205.3" font-size="21.3" text-anchor="end">-20</text>
<line x1="1528.0" y1="1197.6" x2="1924.8" y2="1197.6" stroke="#000" stroke-width="2.7"/>
<line x1="1527.7" y1="1197.6" x2="1527.7" y2="1208.1" stroke="#000" stroke-width="2.7"/>
<line x1="1627.0" y1="1197.6" x2="1627.0" y2="1208.1" stroke="#000" stroke-width="2.7"/>
<line x1="1726.2" y1="1197.6" x2="1726.2" y2="1208.1" stroke="#000" stroke-width="2.7"/>
<line x1="1825.5" y1="1197.6" x2="1825.5" y2="1208.1" stroke="#000" stroke-width="2.7"/>
<line x1="1924.8" y1="1197.6" x2="1924.8" y2="1208.1" stroke="#000" stroke-width="2.7"/>
<text x="1527.7" y="1232.4" font-size="21.3" text-anchor="middle">-20</text>
<text x="1627.0" y="1232.4" font-size="21.3" text-anchor="middle">30</text>
<text x="1726.2" y="1232.4" font-size="21.3" text-anchor="middle">80</text>
<text x="1825.5" y="1232.4" font-size="21.3" text-anchor="middle">130</text>
<text x="1924.8" y="1232.4" font-size="21.3" text-anchor="middle">180</text>
<text x="1726.5" y="1263.2" font-size="21.3" text-anchor="middle">Time (s)</text>
<text transform="translate(1464.0,1063.0) rotate(-90)" font-size="21.3" text-anchor="middle">Response (RU)</text>
<text x="1544.0" y="960.7" font-size="29.3">K<tspan dy="9" font-size="22">D</tspan><tspan dy="-9"> = 2.872 μM</tspan></text>
<text x="1533.0" y="1185.8" font-size="22.6">k<tspan dy="7" font-size="17">a</tspan><tspan dy="-7"> = 2379 (M</tspan><tspan dy="-9" font-size="15.5">-1</tspan><tspan dy="9">s</tspan><tspan dy="-9" font-size="15.5">-1</tspan><tspan dy="9">)</tspan></text>
<text x="1729.0" y="1185.8" font-size="22.6">k<tspan dy="7" font-size="17">d</tspan><tspan dy="-7"> = 6.834 × 10</tspan><tspan dy="-9" font-size="15.5">-3</tspan><tspan dy="9"> (s</tspan><tspan dy="-9" font-size="15.5">-1</tspan><tspan dy="9">)</tspan></text>
<line x1="1851.8" y1="914.0" x2="1882.4" y2="914.0" stroke="#000000" stroke-width="2.4"/>
<text x="1896.5" y="921.5" font-size="21.3">0.3125 μM</text>
<line x1="1851.8" y1="951.4" x2="1882.4" y2="951.4" stroke="#E9A34E" stroke-width="2.4"/>
<text x="1896.5" y="958.9" font-size="21.3">0.625 μM</text>
<line x1="1851.8" y1="988.9" x2="1882.4" y2="988.9" stroke="#82A9D9" stroke-width="2.4"/>
<text x="1896.5" y="996.4" font-size="21.3">1.25 μM</text>
<line x1="1851.8" y1="1026.3" x2="1882.4" y2="1026.3" stroke="#E27A78" stroke-width="2.4"/>
<text x="1896.5" y="1033.8" font-size="21.3">2.5 μM</text>
<line x1="1851.8" y1="1063.8" x2="1882.4" y2="1063.8" stroke="#BEC2C6" stroke-width="2.4"/>
<text x="1896.5" y="1071.3" font-size="21.3">5 μM</text>
<line x1="1851.8" y1="1101.2" x2="1882.4" y2="1101.2" stroke="#F3BFAF" stroke-width="2.4"/>
<text x="1896.5" y="1108.7" font-size="21.3">10 μM</text>
</svg></body></html>
